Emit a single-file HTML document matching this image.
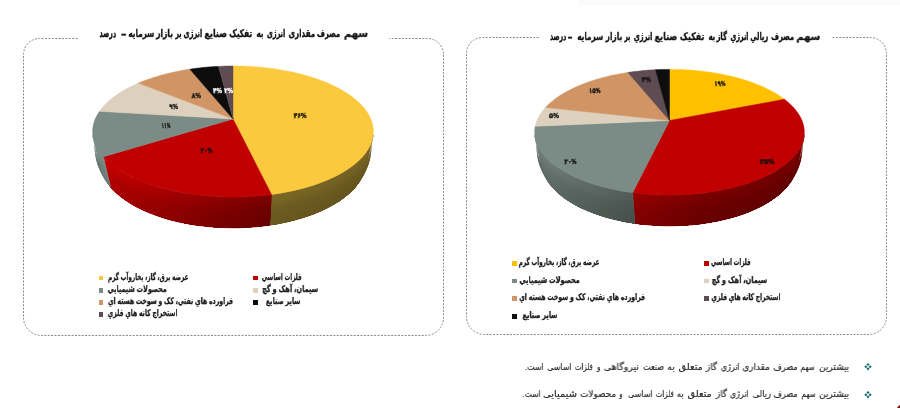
<!DOCTYPE html>
<html lang="fa">
<head>
<meta charset="utf-8">
<title>سهم مصرف انرژی</title>
<style>
html,body{margin:0;padding:0;background:#fff;}
body{width:900px;height:408px;position:relative;overflow:hidden;font-family:"Liberation Sans","DejaVu Sans",sans-serif;color:#1a1a1a;}
svg.bg{position:absolute;left:0;top:0;}
.t{will-change:transform;position:absolute;white-space:nowrap;direction:rtl;line-height:1;transform-origin:right top;}
.c{position:absolute;white-space:nowrap;direction:ltr;line-height:1;font-weight:bold;transform:translate(-50%,-50%);}
.ttl{font-weight:bold;color:#111;-webkit-text-stroke:0.3px #111;}
.lg{font-weight:bold;color:#1a1a1a;-webkit-text-stroke:0.25px #1a1a1a;}
.lb{font-weight:bold;-webkit-text-stroke:0.35px currentColor;}
.sq{position:absolute;width:5px;height:5px;}
.bl{color:#2b2b2b;-webkit-text-stroke:0.18px #2b2b2b;}
.bu{position:absolute;color:#1f6f73;line-height:1;transform:translate(-50%,-50%);}
</style>
</head>
<body>
<svg class="bg" width="900" height="408" viewBox="0 0 900 408"><rect x="578" y="0" width="322" height="5" fill="#fafaf9"/><circle cx="903" cy="411" r="6.6" fill="#8a1010"/><path d="M77.6 38.5 H39.5 A16 16 0 0 0 23.5 54.5 V317.5 A18 18 0 0 0 41.5 335.5 H425.5 A18 18 0 0 0 443.5 317.5 V54.5 A16 16 0 0 0 427.5 38.5 H389.4" fill="none" stroke="#8a8a8a" stroke-width="1" stroke-dasharray="2 1.4"/><path d="M538.7 37.5 H482.5 A16 16 0 0 0 466.5 53.5 V316.5 A18 18 0 0 0 484.5 334.5 H868.5 A18 18 0 0 0 886.5 316.5 V53.5 A16 16 0 0 0 870.5 37.5 H832.5" fill="none" stroke="#8a8a8a" stroke-width="1" stroke-dasharray="2 1.4"/><defs><linearGradient id="L0_0" gradientUnits="userSpaceOnUse" x1="373.2" y1="0" x2="271.5" y2="0"><stop offset="0.001" stop-color="#7c6825"/><stop offset="0.041" stop-color="#796624"/><stop offset="0.133" stop-color="#766323"/><stop offset="0.279" stop-color="#756323"/><stop offset="0.477" stop-color="#766423"/><stop offset="0.721" stop-color="#786523"/><stop offset="1.000" stop-color="#7b6724"/></linearGradient><linearGradient id="L0_1" gradientUnits="userSpaceOnUse" x1="373.2" y1="0" x2="271.5" y2="0"><stop offset="0.004" stop-color="#7b6724"/><stop offset="0.043" stop-color="#786523"/><stop offset="0.135" stop-color="#756223"/><stop offset="0.281" stop-color="#746222"/><stop offset="0.479" stop-color="#756323"/><stop offset="0.723" stop-color="#776423"/><stop offset="1.000" stop-color="#7a6624"/></linearGradient><linearGradient id="L0_2" gradientUnits="userSpaceOnUse" x1="373.2" y1="0" x2="271.5" y2="0"><stop offset="0.007" stop-color="#796524"/><stop offset="0.046" stop-color="#766323"/><stop offset="0.138" stop-color="#736122"/><stop offset="0.284" stop-color="#726022"/><stop offset="0.481" stop-color="#736122"/><stop offset="0.724" stop-color="#746222"/><stop offset="1.000" stop-color="#776523"/></linearGradient><linearGradient id="L0_3" gradientUnits="userSpaceOnUse" x1="373.2" y1="0" x2="271.5" y2="0"><stop offset="0.010" stop-color="#756323"/><stop offset="0.049" stop-color="#726022"/><stop offset="0.141" stop-color="#6f5e21"/><stop offset="0.286" stop-color="#6f5d21"/><stop offset="0.483" stop-color="#705e21"/><stop offset="0.726" stop-color="#715f21"/><stop offset="1.000" stop-color="#746222"/></linearGradient><linearGradient id="L0_4" gradientUnits="userSpaceOnUse" x1="373.2" y1="0" x2="271.5" y2="0"><stop offset="0.013" stop-color="#726022"/><stop offset="0.052" stop-color="#6f5d21"/><stop offset="0.144" stop-color="#6c5b20"/><stop offset="0.289" stop-color="#6c5b20"/><stop offset="0.486" stop-color="#6d5c20"/><stop offset="0.727" stop-color="#6e5d21"/><stop offset="1.000" stop-color="#715f21"/></linearGradient><linearGradient id="L0_5" gradientUnits="userSpaceOnUse" x1="373.2" y1="0" x2="271.5" y2="0"><stop offset="0.016" stop-color="#705e21"/><stop offset="0.055" stop-color="#6d5c20"/><stop offset="0.146" stop-color="#6a591f"/><stop offset="0.291" stop-color="#69591f"/><stop offset="0.488" stop-color="#6b5a20"/><stop offset="0.729" stop-color="#6c5b20"/><stop offset="1.000" stop-color="#6e5d21"/></linearGradient><linearGradient id="L0_6" gradientUnits="userSpaceOnUse" x1="373.2" y1="0" x2="271.5" y2="0"><stop offset="0.018" stop-color="#6e5c20"/><stop offset="0.058" stop-color="#6b5a20"/><stop offset="0.149" stop-color="#68581f"/><stop offset="0.294" stop-color="#68571f"/><stop offset="0.490" stop-color="#69581f"/><stop offset="0.731" stop-color="#6a591f"/><stop offset="1.000" stop-color="#6d5c20"/></linearGradient><linearGradient id="L0_7" gradientUnits="userSpaceOnUse" x1="373.2" y1="0" x2="271.5" y2="0"><stop offset="0.021" stop-color="#6d5c20"/><stop offset="0.061" stop-color="#6a591f"/><stop offset="0.152" stop-color="#67571f"/><stop offset="0.296" stop-color="#67561e"/><stop offset="0.492" stop-color="#68571f"/><stop offset="0.732" stop-color="#69581f"/><stop offset="1.000" stop-color="#6c5b20"/></linearGradient><linearGradient id="L0_8" gradientUnits="userSpaceOnUse" x1="373.2" y1="0" x2="271.5" y2="0"><stop offset="0.027" stop-color="#6c5b20"/><stop offset="0.066" stop-color="#69581f"/><stop offset="0.157" stop-color="#66561e"/><stop offset="0.301" stop-color="#66561e"/><stop offset="0.496" stop-color="#67571e"/><stop offset="0.735" stop-color="#68571f"/><stop offset="1.000" stop-color="#6b5a20"/></linearGradient><linearGradient id="L0_9" gradientUnits="userSpaceOnUse" x1="373.2" y1="0" x2="271.5" y2="0"><stop offset="0.035" stop-color="#6b5a20"/><stop offset="0.074" stop-color="#68581f"/><stop offset="0.165" stop-color="#66561e"/><stop offset="0.308" stop-color="#65551e"/><stop offset="0.502" stop-color="#66561e"/><stop offset="0.740" stop-color="#67571f"/><stop offset="1.000" stop-color="#6a591f"/></linearGradient><linearGradient id="L0_10" gradientUnits="userSpaceOnUse" x1="373.2" y1="0" x2="271.5" y2="0"><stop offset="0.046" stop-color="#6a5a1f"/><stop offset="0.086" stop-color="#68571f"/><stop offset="0.176" stop-color="#65551e"/><stop offset="0.318" stop-color="#65551e"/><stop offset="0.510" stop-color="#66561e"/><stop offset="0.746" stop-color="#67571e"/><stop offset="1.000" stop-color="#69591f"/></linearGradient><linearGradient id="L0_11" gradientUnits="userSpaceOnUse" x1="373.2" y1="0" x2="271.5" y2="0"><stop offset="0.060" stop-color="#6a591f"/><stop offset="0.100" stop-color="#67571f"/><stop offset="0.190" stop-color="#65551e"/><stop offset="0.331" stop-color="#64541e"/><stop offset="0.521" stop-color="#65551e"/><stop offset="0.754" stop-color="#66561e"/><stop offset="1.000" stop-color="#69581f"/></linearGradient><linearGradient id="L1_0" gradientUnits="userSpaceOnUse" x1="271.5" y1="0" x2="103.4" y2="0"><stop offset="0.000" stop-color="#780000"/><stop offset="0.175" stop-color="#830000"/><stop offset="0.353" stop-color="#8e0000"/><stop offset="0.525" stop-color="#9d0000"/><stop offset="0.681" stop-color="#a90000"/><stop offset="0.815" stop-color="#b50000"/><stop offset="0.922" stop-color="#c10000"/><stop offset="0.999" stop-color="#ca0000"/></linearGradient><linearGradient id="L1_1" gradientUnits="userSpaceOnUse" x1="271.5" y1="0" x2="103.4" y2="0"><stop offset="0.001" stop-color="#770000"/><stop offset="0.176" stop-color="#820000"/><stop offset="0.353" stop-color="#8d0000"/><stop offset="0.524" stop-color="#9b0000"/><stop offset="0.680" stop-color="#a80000"/><stop offset="0.814" stop-color="#b30000"/><stop offset="0.920" stop-color="#bf0000"/><stop offset="0.997" stop-color="#c90000"/></linearGradient><linearGradient id="L1_2" gradientUnits="userSpaceOnUse" x1="271.5" y1="0" x2="103.4" y2="0"><stop offset="0.001" stop-color="#750000"/><stop offset="0.176" stop-color="#7f0000"/><stop offset="0.353" stop-color="#8a0000"/><stop offset="0.523" stop-color="#980000"/><stop offset="0.679" stop-color="#a50000"/><stop offset="0.812" stop-color="#b00000"/><stop offset="0.919" stop-color="#bb0000"/><stop offset="0.996" stop-color="#c50000"/></linearGradient><linearGradient id="L1_3" gradientUnits="userSpaceOnUse" x1="271.5" y1="0" x2="103.4" y2="0"><stop offset="0.002" stop-color="#720000"/><stop offset="0.176" stop-color="#7c0000"/><stop offset="0.352" stop-color="#870000"/><stop offset="0.523" stop-color="#940000"/><stop offset="0.678" stop-color="#a00000"/><stop offset="0.811" stop-color="#ab0000"/><stop offset="0.917" stop-color="#b60000"/><stop offset="0.994" stop-color="#bf0000"/></linearGradient><linearGradient id="L1_4" gradientUnits="userSpaceOnUse" x1="271.5" y1="0" x2="103.4" y2="0"><stop offset="0.002" stop-color="#6e0000"/><stop offset="0.176" stop-color="#780000"/><stop offset="0.352" stop-color="#830000"/><stop offset="0.522" stop-color="#900000"/><stop offset="0.677" stop-color="#9b0000"/><stop offset="0.810" stop-color="#a60000"/><stop offset="0.916" stop-color="#b10000"/><stop offset="0.992" stop-color="#ba0000"/></linearGradient><linearGradient id="L1_5" gradientUnits="userSpaceOnUse" x1="271.5" y1="0" x2="103.4" y2="0"><stop offset="0.003" stop-color="#6c0000"/><stop offset="0.176" stop-color="#760000"/><stop offset="0.352" stop-color="#800000"/><stop offset="0.521" stop-color="#8d0000"/><stop offset="0.676" stop-color="#980000"/><stop offset="0.808" stop-color="#a30000"/><stop offset="0.914" stop-color="#ad0000"/><stop offset="0.991" stop-color="#b60000"/></linearGradient><linearGradient id="L1_6" gradientUnits="userSpaceOnUse" x1="271.5" y1="0" x2="103.4" y2="0"><stop offset="0.004" stop-color="#6b0000"/><stop offset="0.176" stop-color="#740000"/><stop offset="0.351" stop-color="#7e0000"/><stop offset="0.520" stop-color="#8b0000"/><stop offset="0.675" stop-color="#960000"/><stop offset="0.807" stop-color="#a10000"/><stop offset="0.913" stop-color="#ab0000"/><stop offset="0.989" stop-color="#b30000"/></linearGradient><linearGradient id="L1_7" gradientUnits="userSpaceOnUse" x1="271.5" y1="0" x2="103.4" y2="0"><stop offset="0.004" stop-color="#690000"/><stop offset="0.176" stop-color="#730000"/><stop offset="0.351" stop-color="#7d0000"/><stop offset="0.520" stop-color="#890000"/><stop offset="0.673" stop-color="#940000"/><stop offset="0.806" stop-color="#9f0000"/><stop offset="0.911" stop-color="#a90000"/><stop offset="0.987" stop-color="#b20000"/></linearGradient><linearGradient id="L1_8" gradientUnits="userSpaceOnUse" x1="271.5" y1="0" x2="103.4" y2="0"><stop offset="0.005" stop-color="#680000"/><stop offset="0.177" stop-color="#720000"/><stop offset="0.351" stop-color="#7c0000"/><stop offset="0.518" stop-color="#880000"/><stop offset="0.672" stop-color="#930000"/><stop offset="0.803" stop-color="#9d0000"/><stop offset="0.908" stop-color="#a70000"/><stop offset="0.984" stop-color="#b00000"/></linearGradient><linearGradient id="L1_9" gradientUnits="userSpaceOnUse" x1="271.5" y1="0" x2="103.4" y2="0"><stop offset="0.007" stop-color="#680000"/><stop offset="0.177" stop-color="#710000"/><stop offset="0.350" stop-color="#7b0000"/><stop offset="0.516" stop-color="#870000"/><stop offset="0.668" stop-color="#920000"/><stop offset="0.799" stop-color="#9c0000"/><stop offset="0.904" stop-color="#a60000"/><stop offset="0.979" stop-color="#af0000"/></linearGradient><linearGradient id="L1_10" gradientUnits="userSpaceOnUse" x1="271.5" y1="0" x2="103.4" y2="0"><stop offset="0.009" stop-color="#670000"/><stop offset="0.177" stop-color="#700000"/><stop offset="0.349" stop-color="#7a0000"/><stop offset="0.514" stop-color="#860000"/><stop offset="0.664" stop-color="#910000"/><stop offset="0.794" stop-color="#9c0000"/><stop offset="0.897" stop-color="#a50000"/><stop offset="0.973" stop-color="#ae0000"/></linearGradient><linearGradient id="L1_11" gradientUnits="userSpaceOnUse" x1="271.5" y1="0" x2="103.4" y2="0"><stop offset="0.012" stop-color="#670000"/><stop offset="0.178" stop-color="#700000"/><stop offset="0.347" stop-color="#7a0000"/><stop offset="0.510" stop-color="#860000"/><stop offset="0.659" stop-color="#910000"/><stop offset="0.787" stop-color="#9b0000"/><stop offset="0.890" stop-color="#a50000"/><stop offset="0.964" stop-color="#ad0000"/></linearGradient><linearGradient id="L2_0" gradientUnits="userSpaceOnUse" x1="103.4" y1="0" x2="92.8" y2="0"><stop offset="0.000" stop-color="#7c8d87"/><stop offset="0.986" stop-color="#798983"/></linearGradient><linearGradient id="L2_1" gradientUnits="userSpaceOnUse" x1="103.4" y1="0" x2="92.8" y2="0"><stop offset="0.000" stop-color="#7b8c86"/><stop offset="0.959" stop-color="#788882"/></linearGradient><linearGradient id="L2_2" gradientUnits="userSpaceOnUse" x1="103.4" y1="0" x2="92.8" y2="0"><stop offset="0.000" stop-color="#798983"/><stop offset="0.932" stop-color="#75857f"/></linearGradient><linearGradient id="L2_3" gradientUnits="userSpaceOnUse" x1="103.4" y1="0" x2="92.8" y2="0"><stop offset="0.000" stop-color="#768680"/><stop offset="0.904" stop-color="#72827c"/></linearGradient><linearGradient id="L2_4" gradientUnits="userSpaceOnUse" x1="103.4" y1="0" x2="92.8" y2="0"><stop offset="0.000" stop-color="#72827c"/><stop offset="0.877" stop-color="#6f7e78"/></linearGradient><linearGradient id="L2_5" gradientUnits="userSpaceOnUse" x1="103.4" y1="0" x2="92.8" y2="0"><stop offset="0.000" stop-color="#707f79"/><stop offset="0.850" stop-color="#6d7b76"/></linearGradient><linearGradient id="L2_6" gradientUnits="userSpaceOnUse" x1="103.4" y1="0" x2="92.8" y2="0"><stop offset="0.000" stop-color="#6e7d78"/><stop offset="0.824" stop-color="#6b7a74"/></linearGradient><linearGradient id="L2_7" gradientUnits="userSpaceOnUse" x1="103.4" y1="0" x2="92.8" y2="0"><stop offset="0.000" stop-color="#6d7c76"/><stop offset="0.796" stop-color="#6a7873"/></linearGradient><linearGradient id="L2_8" gradientUnits="userSpaceOnUse" x1="103.4" y1="0" x2="92.8" y2="0"><stop offset="0.000" stop-color="#6c7b75"/><stop offset="0.745" stop-color="#697772"/></linearGradient><linearGradient id="L2_9" gradientUnits="userSpaceOnUse" x1="103.4" y1="0" x2="92.8" y2="0"><stop offset="0.000" stop-color="#6b7a75"/><stop offset="0.666" stop-color="#687671"/></linearGradient><linearGradient id="L2_10" gradientUnits="userSpaceOnUse" x1="103.4" y1="0" x2="92.8" y2="0"><stop offset="0.000" stop-color="#6b7974"/><stop offset="0.557" stop-color="#687670"/></linearGradient><linearGradient id="L2_11" gradientUnits="userSpaceOnUse" x1="103.4" y1="0" x2="92.8" y2="0"><stop offset="0.000" stop-color="#6a7973"/><stop offset="0.419" stop-color="#677570"/></linearGradient></defs><path d="M373.2 135.0 L372.5 138.7 L371.4 142.4 L369.8 146.1 L367.7 149.8 L365.2 153.5 L362.1 157.2 L358.6 160.8 L354.5 164.3 L350.0 167.7 L344.9 171.0 L339.4 174.2 L333.4 177.3 L327.0 180.1 L320.1 182.9 L312.8 185.4 L305.2 187.7 L297.2 189.7 L288.9 191.6 L280.3 193.2 L271.5 194.5 L269.2 225.2 L277.6 223.9 L285.7 222.3 L293.5 220.4 L301.1 218.3 L308.3 216.0 L315.2 213.4 L321.7 210.7 L327.8 207.7 L333.5 204.6 L338.8 201.4 L343.6 198.0 L348.0 194.5 L351.9 190.9 L355.3 187.2 L358.3 183.5 L360.7 179.7 L362.8 175.9 L364.4 172.1 L365.5 168.2 L366.2 164.4Z" fill="url(#L0_0)" stroke="url(#L0_0)" stroke-width="0.7"/><path d="M372.9 137.5 L372.2 141.3 L371.1 145.0 L369.5 148.7 L367.4 152.5 L364.9 156.2 L361.8 159.8 L358.3 163.4 L354.2 167.0 L349.7 170.4 L344.7 173.8 L339.2 177.0 L333.2 180.0 L326.8 182.9 L319.9 185.6 L312.7 188.2 L305.0 190.5 L297.0 192.6 L288.7 194.4 L280.2 196.0 L271.4 197.3 L269.2 225.2 L277.6 223.9 L285.7 222.3 L293.5 220.4 L301.1 218.3 L308.3 216.0 L315.2 213.4 L321.7 210.7 L327.8 207.7 L333.5 204.6 L338.8 201.4 L343.6 198.0 L348.0 194.5 L351.9 190.9 L355.3 187.2 L358.3 183.5 L360.7 179.7 L362.8 175.9 L364.4 172.1 L365.5 168.2 L366.2 164.4Z" fill="url(#L0_1)"/><path d="M372.6 140.1 L371.9 143.8 L370.8 147.6 L369.2 151.3 L367.2 155.1 L364.6 158.8 L361.5 162.5 L358.0 166.1 L354.0 169.7 L349.4 173.1 L344.4 176.5 L338.9 179.7 L332.9 182.8 L326.5 185.7 L319.7 188.4 L312.5 190.9 L304.9 193.3 L296.9 195.4 L288.6 197.2 L280.1 198.8 L271.3 200.2 L269.2 225.2 L277.6 223.9 L285.7 222.3 L293.5 220.4 L301.1 218.3 L308.3 216.0 L315.2 213.4 L321.7 210.7 L327.8 207.7 L333.5 204.6 L338.8 201.4 L343.6 198.0 L348.0 194.5 L351.9 190.9 L355.3 187.2 L358.3 183.5 L360.7 179.7 L362.8 175.9 L364.4 172.1 L365.5 168.2 L366.2 164.4Z" fill="url(#L0_2)"/><path d="M372.3 142.6 L371.6 146.4 L370.5 150.1 L368.9 153.9 L366.9 157.7 L364.3 161.4 L361.3 165.1 L357.7 168.8 L353.7 172.3 L349.2 175.8 L344.2 179.2 L338.7 182.4 L332.7 185.5 L326.3 188.4 L319.5 191.2 L312.3 193.7 L304.7 196.1 L296.7 198.2 L288.5 200.0 L280.0 201.6 L271.2 203.0 L269.2 225.2 L277.6 223.9 L285.7 222.3 L293.5 220.4 L301.1 218.3 L308.3 216.0 L315.2 213.4 L321.7 210.7 L327.8 207.7 L333.5 204.6 L338.8 201.4 L343.6 198.0 L348.0 194.5 L351.9 190.9 L355.3 187.2 L358.3 183.5 L360.7 179.7 L362.8 175.9 L364.4 172.1 L365.5 168.2 L366.2 164.4Z" fill="url(#L0_3)"/><path d="M372.0 145.1 L371.3 148.9 L370.2 152.7 L368.6 156.5 L366.6 160.3 L364.0 164.0 L361.0 167.8 L357.4 171.4 L353.4 175.0 L348.9 178.5 L343.9 181.9 L338.4 185.1 L332.5 188.2 L326.1 191.2 L319.3 193.9 L312.1 196.5 L304.5 198.8 L296.6 200.9 L288.3 202.8 L279.8 204.4 L271.1 205.8 L269.2 225.2 L277.6 223.9 L285.7 222.3 L293.5 220.4 L301.1 218.3 L308.3 216.0 L315.2 213.4 L321.7 210.7 L327.8 207.7 L333.5 204.6 L338.8 201.4 L343.6 198.0 L348.0 194.5 L351.9 190.9 L355.3 187.2 L358.3 183.5 L360.7 179.7 L362.8 175.9 L364.4 172.1 L365.5 168.2 L366.2 164.4Z" fill="url(#L0_4)"/><path d="M371.7 147.6 L371.1 151.4 L369.9 155.2 L368.4 159.0 L366.3 162.9 L363.7 166.6 L360.7 170.4 L357.2 174.0 L353.2 177.6 L348.6 181.1 L343.6 184.5 L338.2 187.8 L332.3 190.9 L325.9 193.9 L319.1 196.6 L311.9 199.2 L304.3 201.6 L296.4 203.7 L288.2 205.6 L279.7 207.2 L271.0 208.5 L269.2 225.2 L277.6 223.9 L285.7 222.3 L293.5 220.4 L301.1 218.3 L308.3 216.0 L315.2 213.4 L321.7 210.7 L327.8 207.7 L333.5 204.6 L338.8 201.4 L343.6 198.0 L348.0 194.5 L351.9 190.9 L355.3 187.2 L358.3 183.5 L360.7 179.7 L362.8 175.9 L364.4 172.1 L365.5 168.2 L366.2 164.4Z" fill="url(#L0_5)"/><path d="M371.4 150.1 L370.8 153.9 L369.7 157.8 L368.1 161.6 L366.0 165.4 L363.5 169.2 L360.4 173.0 L356.9 176.7 L352.9 180.3 L348.4 183.8 L343.4 187.2 L337.9 190.5 L332.0 193.6 L325.7 196.6 L318.9 199.4 L311.7 201.9 L304.2 204.3 L296.3 206.4 L288.1 208.3 L279.6 210.0 L270.9 211.3 L269.2 225.2 L277.6 223.9 L285.7 222.3 L293.5 220.4 L301.1 218.3 L308.3 216.0 L315.2 213.4 L321.7 210.7 L327.8 207.7 L333.5 204.6 L338.8 201.4 L343.6 198.0 L348.0 194.5 L351.9 190.9 L355.3 187.2 L358.3 183.5 L360.7 179.7 L362.8 175.9 L364.4 172.1 L365.5 168.2 L366.2 164.4Z" fill="url(#L0_6)"/><path d="M371.1 152.6 L370.5 156.4 L369.4 160.3 L367.8 164.1 L365.7 168.0 L363.2 171.8 L360.1 175.6 L356.6 179.3 L352.6 182.9 L348.1 186.4 L343.1 189.9 L337.7 193.2 L331.8 196.3 L325.5 199.3 L318.7 202.1 L311.5 204.7 L304.0 207.0 L296.1 209.2 L288.0 211.1 L279.5 212.7 L270.8 214.1 L269.2 225.2 L277.6 223.9 L285.7 222.3 L293.5 220.4 L301.1 218.3 L308.3 216.0 L315.2 213.4 L321.7 210.7 L327.8 207.7 L333.5 204.6 L338.8 201.4 L343.6 198.0 L348.0 194.5 L351.9 190.9 L355.3 187.2 L358.3 183.5 L360.7 179.7 L362.8 175.9 L364.4 172.1 L365.5 168.2 L366.2 164.4Z" fill="url(#L0_7)"/><path d="M370.8 155.0 L370.1 158.9 L369.0 162.8 L367.4 166.6 L365.3 170.5 L362.8 174.3 L359.8 178.1 L356.3 181.8 L352.3 185.5 L347.8 189.0 L342.8 192.5 L337.4 195.8 L331.5 198.9 L325.2 201.9 L318.4 204.7 L311.3 207.3 L303.8 209.7 L295.9 211.8 L287.8 213.7 L279.4 215.4 L270.7 216.8 L269.2 225.2 L277.6 223.9 L285.7 222.3 L293.5 220.4 L301.1 218.3 L308.3 216.0 L315.2 213.4 L321.7 210.7 L327.8 207.7 L333.5 204.6 L338.8 201.4 L343.6 198.0 L348.0 194.5 L351.9 190.9 L355.3 187.2 L358.3 183.5 L360.7 179.7 L362.8 175.9 L364.4 172.1 L365.5 168.2 L366.2 164.4Z" fill="url(#L0_8)"/><path d="M370.1 157.5 L369.4 161.3 L368.3 165.2 L366.7 169.1 L364.7 172.9 L362.1 176.8 L359.1 180.6 L355.6 184.3 L351.6 187.9 L347.2 191.5 L342.2 194.9 L336.8 198.2 L330.9 201.4 L324.7 204.4 L317.9 207.2 L310.8 209.8 L303.4 212.2 L295.6 214.3 L287.5 216.2 L279.1 217.8 L270.5 219.2 L269.2 225.2 L277.6 223.9 L285.7 222.3 L293.5 220.4 L301.1 218.3 L308.3 216.0 L315.2 213.4 L321.7 210.7 L327.8 207.7 L333.5 204.6 L338.8 201.4 L343.6 198.0 L348.0 194.5 L351.9 190.9 L355.3 187.2 L358.3 183.5 L360.7 179.7 L362.8 175.9 L364.4 172.1 L365.5 168.2 L366.2 164.4Z" fill="url(#L0_9)"/><path d="M369.1 159.8 L368.4 163.7 L367.3 167.6 L365.7 171.4 L363.7 175.3 L361.1 179.1 L358.1 182.9 L354.6 186.6 L350.7 190.2 L346.2 193.8 L341.3 197.2 L336.0 200.5 L330.2 203.7 L323.9 206.7 L317.2 209.4 L310.2 212.0 L302.8 214.4 L295.0 216.6 L287.0 218.4 L278.7 220.1 L270.2 221.4 L269.2 225.2 L277.6 223.9 L285.7 222.3 L293.5 220.4 L301.1 218.3 L308.3 216.0 L315.2 213.4 L321.7 210.7 L327.8 207.7 L333.5 204.6 L338.8 201.4 L343.6 198.0 L348.0 194.5 L351.9 190.9 L355.3 187.2 L358.3 183.5 L360.7 179.7 L362.8 175.9 L364.4 172.1 L365.5 168.2 L366.2 164.4Z" fill="url(#L0_10)"/><path d="M367.8 162.1 L367.1 166.0 L366.0 169.8 L364.4 173.7 L362.4 177.5 L359.8 181.3 L356.9 185.1 L353.4 188.8 L349.5 192.4 L345.1 196.0 L340.2 199.4 L334.9 202.7 L329.1 205.8 L322.9 208.8 L316.3 211.5 L309.4 214.1 L302.0 216.5 L294.4 218.6 L286.4 220.5 L278.2 222.1 L269.8 223.5 L269.2 225.2 L277.6 223.9 L285.7 222.3 L293.5 220.4 L301.1 218.3 L308.3 216.0 L315.2 213.4 L321.7 210.7 L327.8 207.7 L333.5 204.6 L338.8 201.4 L343.6 198.0 L348.0 194.5 L351.9 190.9 L355.3 187.2 L358.3 183.5 L360.7 179.7 L362.8 175.9 L364.4 172.1 L365.5 168.2 L366.2 164.4Z" fill="url(#L0_11)"/><path d="M271.5 194.5 L262.6 195.5 L253.7 196.3 L244.6 196.8 L235.5 197.0 L226.4 196.9 L217.2 196.6 L208.2 196.0 L199.3 195.1 L190.6 193.9 L182.0 192.5 L173.7 190.9 L165.7 189.0 L158.0 186.9 L150.7 184.5 L143.7 182.0 L137.1 179.3 L130.9 176.5 L125.2 173.4 L119.9 170.3 L115.1 167.0 L110.7 163.6 L106.8 160.2 L103.4 156.7 L110.3 186.7 L113.5 190.3 L117.3 193.8 L121.5 197.3 L126.1 200.6 L131.1 203.8 L136.6 206.9 L142.4 209.8 L148.7 212.6 L155.3 215.1 L162.3 217.5 L169.6 219.7 L177.1 221.6 L185.0 223.3 L193.0 224.7 L201.3 225.8 L209.7 226.7 L218.2 227.4 L226.7 227.7 L235.3 227.8 L243.9 227.6 L252.5 227.1 L260.9 226.3 L269.2 225.2Z" fill="url(#L1_0)" stroke="url(#L1_0)" stroke-width="0.7"/><path d="M271.4 197.3 L262.6 198.4 L253.6 199.1 L244.6 199.6 L235.5 199.8 L226.4 199.8 L217.3 199.4 L208.3 198.8 L199.4 197.9 L190.7 196.8 L182.2 195.4 L173.9 193.7 L165.9 191.8 L158.2 189.7 L150.9 187.3 L143.9 184.8 L137.3 182.1 L131.2 179.2 L125.4 176.2 L120.2 173.0 L115.3 169.7 L111.0 166.3 L107.1 162.9 L103.7 159.3 L110.3 186.7 L113.5 190.3 L117.3 193.8 L121.5 197.3 L126.1 200.6 L131.1 203.8 L136.6 206.9 L142.4 209.8 L148.7 212.6 L155.3 215.1 L162.3 217.5 L169.6 219.7 L177.1 221.6 L185.0 223.3 L193.0 224.7 L201.3 225.8 L209.7 226.7 L218.2 227.4 L226.7 227.7 L235.3 227.8 L243.9 227.6 L252.5 227.1 L260.9 226.3 L269.2 225.2Z" fill="url(#L1_1)"/><path d="M271.3 200.2 L262.5 201.2 L253.6 202.0 L244.6 202.5 L235.5 202.7 L226.4 202.6 L217.3 202.3 L208.3 201.6 L199.5 200.8 L190.8 199.6 L182.3 198.2 L174.0 196.5 L166.0 194.6 L158.4 192.5 L151.1 190.1 L144.1 187.6 L137.5 184.8 L131.4 181.9 L125.7 178.9 L120.4 175.7 L115.6 172.4 L111.3 169.0 L107.4 165.5 L104.0 162.0 L110.3 186.7 L113.5 190.3 L117.3 193.8 L121.5 197.3 L126.1 200.6 L131.1 203.8 L136.6 206.9 L142.4 209.8 L148.7 212.6 L155.3 215.1 L162.3 217.5 L169.6 219.7 L177.1 221.6 L185.0 223.3 L193.0 224.7 L201.3 225.8 L209.7 226.7 L218.2 227.4 L226.7 227.7 L235.3 227.8 L243.9 227.6 L252.5 227.1 L260.9 226.3 L269.2 225.2Z" fill="url(#L1_2)"/><path d="M271.2 203.0 L262.4 204.0 L253.5 204.8 L244.5 205.3 L235.5 205.5 L226.4 205.4 L217.4 205.1 L208.4 204.5 L199.6 203.6 L190.9 202.4 L182.4 201.0 L174.2 199.3 L166.2 197.4 L158.6 195.2 L151.2 192.9 L144.3 190.3 L137.8 187.6 L131.6 184.7 L125.9 181.6 L120.7 178.4 L115.9 175.1 L111.5 171.7 L107.7 168.2 L104.3 164.6 L110.3 186.7 L113.5 190.3 L117.3 193.8 L121.5 197.3 L126.1 200.6 L131.1 203.8 L136.6 206.9 L142.4 209.8 L148.7 212.6 L155.3 215.1 L162.3 217.5 L169.6 219.7 L177.1 221.6 L185.0 223.3 L193.0 224.7 L201.3 225.8 L209.7 226.7 L218.2 227.4 L226.7 227.7 L235.3 227.8 L243.9 227.6 L252.5 227.1 L260.9 226.3 L269.2 225.2Z" fill="url(#L1_3)"/><path d="M271.1 205.8 L262.4 206.8 L253.5 207.6 L244.5 208.1 L235.5 208.3 L226.4 208.2 L217.4 207.9 L208.5 207.3 L199.6 206.4 L191.0 205.2 L182.5 203.8 L174.3 202.1 L166.4 200.2 L158.7 198.0 L151.4 195.6 L144.5 193.1 L138.0 190.3 L131.9 187.4 L126.2 184.3 L120.9 181.1 L116.1 177.8 L111.8 174.3 L107.9 170.8 L104.6 167.2 L110.3 186.7 L113.5 190.3 L117.3 193.8 L121.5 197.3 L126.1 200.6 L131.1 203.8 L136.6 206.9 L142.4 209.8 L148.7 212.6 L155.3 215.1 L162.3 217.5 L169.6 219.7 L177.1 221.6 L185.0 223.3 L193.0 224.7 L201.3 225.8 L209.7 226.7 L218.2 227.4 L226.7 227.7 L235.3 227.8 L243.9 227.6 L252.5 227.1 L260.9 226.3 L269.2 225.2Z" fill="url(#L1_4)"/><path d="M271.0 208.5 L262.3 209.6 L253.4 210.4 L244.5 210.9 L235.5 211.1 L226.4 211.0 L217.4 210.7 L208.5 210.1 L199.7 209.2 L191.1 208.0 L182.6 206.5 L174.4 204.8 L166.5 202.9 L158.9 200.8 L151.6 198.4 L144.7 195.8 L138.2 193.0 L132.1 190.1 L126.4 187.0 L121.2 183.8 L116.4 180.4 L112.1 177.0 L108.2 173.4 L104.8 169.8 L110.3 186.7 L113.5 190.3 L117.3 193.8 L121.5 197.3 L126.1 200.6 L131.1 203.8 L136.6 206.9 L142.4 209.8 L148.7 212.6 L155.3 215.1 L162.3 217.5 L169.6 219.7 L177.1 221.6 L185.0 223.3 L193.0 224.7 L201.3 225.8 L209.7 226.7 L218.2 227.4 L226.7 227.7 L235.3 227.8 L243.9 227.6 L252.5 227.1 L260.9 226.3 L269.2 225.2Z" fill="url(#L1_5)"/><path d="M270.9 211.3 L262.2 212.4 L253.4 213.2 L244.4 213.7 L235.5 213.9 L226.4 213.8 L217.5 213.5 L208.6 212.8 L199.8 211.9 L191.2 210.7 L182.8 209.3 L174.6 207.6 L166.7 205.7 L159.1 203.5 L151.8 201.1 L144.9 198.5 L138.4 195.7 L132.3 192.8 L126.7 189.7 L121.4 186.4 L116.7 183.1 L112.3 179.6 L108.5 176.1 L105.1 172.4 L110.3 186.7 L113.5 190.3 L117.3 193.8 L121.5 197.3 L126.1 200.6 L131.1 203.8 L136.6 206.9 L142.4 209.8 L148.7 212.6 L155.3 215.1 L162.3 217.5 L169.6 219.7 L177.1 221.6 L185.0 223.3 L193.0 224.7 L201.3 225.8 L209.7 226.7 L218.2 227.4 L226.7 227.7 L235.3 227.8 L243.9 227.6 L252.5 227.1 L260.9 226.3 L269.2 225.2Z" fill="url(#L1_6)"/><path d="M270.8 214.1 L262.1 215.1 L253.3 215.9 L244.4 216.4 L235.4 216.6 L226.5 216.6 L217.5 216.2 L208.6 215.6 L199.9 214.7 L191.3 213.5 L182.9 212.1 L174.7 210.3 L166.8 208.4 L159.3 206.2 L152.0 203.8 L145.1 201.2 L138.6 198.4 L132.6 195.5 L126.9 192.3 L121.7 189.1 L116.9 185.7 L112.6 182.2 L108.8 178.7 L105.4 175.0 L110.3 186.7 L113.5 190.3 L117.3 193.8 L121.5 197.3 L126.1 200.6 L131.1 203.8 L136.6 206.9 L142.4 209.8 L148.7 212.6 L155.3 215.1 L162.3 217.5 L169.6 219.7 L177.1 221.6 L185.0 223.3 L193.0 224.7 L201.3 225.8 L209.7 226.7 L218.2 227.4 L226.7 227.7 L235.3 227.8 L243.9 227.6 L252.5 227.1 L260.9 226.3 L269.2 225.2Z" fill="url(#L1_7)"/><path d="M270.7 216.8 L262.1 217.8 L253.3 218.6 L244.4 219.1 L235.4 219.3 L226.5 219.3 L217.6 218.9 L208.7 218.3 L200.0 217.4 L191.4 216.2 L183.0 214.7 L174.9 213.0 L167.0 211.1 L159.5 208.9 L152.3 206.5 L145.4 203.9 L138.9 201.1 L132.9 198.1 L127.2 195.0 L122.0 191.7 L117.3 188.3 L113.0 184.8 L109.1 181.2 L105.8 177.6 L110.3 186.7 L113.5 190.3 L117.3 193.8 L121.5 197.3 L126.1 200.6 L131.1 203.8 L136.6 206.9 L142.4 209.8 L148.7 212.6 L155.3 215.1 L162.3 217.5 L169.6 219.7 L177.1 221.6 L185.0 223.3 L193.0 224.7 L201.3 225.8 L209.7 226.7 L218.2 227.4 L226.7 227.7 L235.3 227.8 L243.9 227.6 L252.5 227.1 L260.9 226.3 L269.2 225.2Z" fill="url(#L1_8)"/><path d="M270.5 219.2 L261.9 220.3 L253.1 221.1 L244.3 221.6 L235.4 221.8 L226.5 221.7 L217.7 221.4 L208.9 220.7 L200.2 219.8 L191.7 218.6 L183.3 217.2 L175.2 215.5 L167.4 213.5 L159.9 211.3 L152.7 208.9 L145.9 206.3 L139.5 203.5 L133.4 200.5 L127.8 197.4 L122.6 194.1 L117.9 190.8 L113.6 187.3 L109.8 183.7 L106.4 180.0 L110.3 186.7 L113.5 190.3 L117.3 193.8 L121.5 197.3 L126.1 200.6 L131.1 203.8 L136.6 206.9 L142.4 209.8 L148.7 212.6 L155.3 215.1 L162.3 217.5 L169.6 219.7 L177.1 221.6 L185.0 223.3 L193.0 224.7 L201.3 225.8 L209.7 226.7 L218.2 227.4 L226.7 227.7 L235.3 227.8 L243.9 227.6 L252.5 227.1 L260.9 226.3 L269.2 225.2Z" fill="url(#L1_9)"/><path d="M270.2 221.4 L261.6 222.5 L253.0 223.3 L244.2 223.8 L235.4 224.0 L226.6 224.0 L217.8 223.6 L209.1 223.0 L200.5 222.1 L192.0 220.9 L183.8 219.4 L175.7 217.7 L168.0 215.8 L160.5 213.6 L153.4 211.2 L146.6 208.6 L140.2 205.8 L134.2 202.8 L128.7 199.7 L123.5 196.5 L118.8 193.1 L114.6 189.6 L110.8 186.0 L107.4 182.4 L110.3 186.7 L113.5 190.3 L117.3 193.8 L121.5 197.3 L126.1 200.6 L131.1 203.8 L136.6 206.9 L142.4 209.8 L148.7 212.6 L155.3 215.1 L162.3 217.5 L169.6 219.7 L177.1 221.6 L185.0 223.3 L193.0 224.7 L201.3 225.8 L209.7 226.7 L218.2 227.4 L226.7 227.7 L235.3 227.8 L243.9 227.6 L252.5 227.1 L260.9 226.3 L269.2 225.2Z" fill="url(#L1_10)"/><path d="M269.8 223.5 L261.3 224.5 L252.8 225.3 L244.1 225.8 L235.4 226.0 L226.7 225.9 L218.0 225.6 L209.3 225.0 L200.8 224.1 L192.5 222.9 L184.3 221.4 L176.4 219.8 L168.7 217.8 L161.3 215.6 L154.3 213.3 L147.5 210.7 L141.2 207.9 L135.3 205.0 L129.8 201.9 L124.7 198.6 L120.0 195.2 L115.8 191.8 L112.0 188.2 L108.7 184.6 L110.3 186.7 L113.5 190.3 L117.3 193.8 L121.5 197.3 L126.1 200.6 L131.1 203.8 L136.6 206.9 L142.4 209.8 L148.7 212.6 L155.3 215.1 L162.3 217.5 L169.6 219.7 L177.1 221.6 L185.0 223.3 L193.0 224.7 L201.3 225.8 L209.7 226.7 L218.2 227.4 L226.7 227.7 L235.3 227.8 L243.9 227.6 L252.5 227.1 L260.9 226.3 L269.2 225.2Z" fill="url(#L1_11)"/><path d="M103.4 156.7 L100.5 153.1 L98.1 149.5 L96.1 145.9 L94.5 142.2 L93.5 138.6 L92.8 135.0 L99.8 164.4 L100.5 168.1 L101.6 171.9 L103.1 175.6 L105.0 179.3 L107.4 183.0 L110.3 186.7Z" fill="url(#L2_0)" stroke="url(#L2_0)" stroke-width="0.7"/><path d="M103.7 159.3 L100.8 155.7 L98.3 152.1 L96.4 148.5 L94.8 144.8 L93.8 141.2 L93.1 137.5 L99.8 164.4 L100.5 168.1 L101.6 171.9 L103.1 175.6 L105.0 179.3 L107.4 183.0 L110.3 186.7Z" fill="url(#L2_1)"/><path d="M104.0 162.0 L101.1 158.4 L98.6 154.7 L96.7 151.1 L95.1 147.4 L94.1 143.7 L93.4 140.1 L99.8 164.4 L100.5 168.1 L101.6 171.9 L103.1 175.6 L105.0 179.3 L107.4 183.0 L110.3 186.7Z" fill="url(#L2_2)"/><path d="M104.3 164.6 L101.4 161.0 L98.9 157.3 L96.9 153.6 L95.4 150.0 L94.3 146.3 L93.7 142.6 L99.8 164.4 L100.5 168.1 L101.6 171.9 L103.1 175.6 L105.0 179.3 L107.4 183.0 L110.3 186.7Z" fill="url(#L2_3)"/><path d="M104.6 167.2 L101.7 163.6 L99.2 159.9 L97.2 156.2 L95.7 152.5 L94.6 148.8 L94.0 145.1 L99.8 164.4 L100.5 168.1 L101.6 171.9 L103.1 175.6 L105.0 179.3 L107.4 183.0 L110.3 186.7Z" fill="url(#L2_4)"/><path d="M104.8 169.8 L101.9 166.2 L99.5 162.5 L97.5 158.8 L96.0 155.0 L94.9 151.3 L94.3 147.6 L99.8 164.4 L100.5 168.1 L101.6 171.9 L103.1 175.6 L105.0 179.3 L107.4 183.0 L110.3 186.7Z" fill="url(#L2_5)"/><path d="M105.1 172.4 L102.2 168.8 L99.8 165.1 L97.8 161.3 L96.3 157.6 L95.2 153.8 L94.6 150.1 L99.8 164.4 L100.5 168.1 L101.6 171.9 L103.1 175.6 L105.0 179.3 L107.4 183.0 L110.3 186.7Z" fill="url(#L2_6)"/><path d="M105.4 175.0 L102.5 171.3 L100.1 167.6 L98.1 163.9 L96.6 160.1 L95.5 156.3 L94.9 152.6 L99.8 164.4 L100.5 168.1 L101.6 171.9 L103.1 175.6 L105.0 179.3 L107.4 183.0 L110.3 186.7Z" fill="url(#L2_7)"/><path d="M105.8 177.6 L102.9 173.9 L100.4 170.1 L98.5 166.4 L97.0 162.6 L95.9 158.8 L95.2 155.0 L99.8 164.4 L100.5 168.1 L101.6 171.9 L103.1 175.6 L105.0 179.3 L107.4 183.0 L110.3 186.7Z" fill="url(#L2_8)"/><path d="M106.4 180.0 L103.6 176.3 L101.1 172.6 L99.2 168.8 L97.6 165.0 L96.6 161.2 L95.9 157.5 L99.8 164.4 L100.5 168.1 L101.6 171.9 L103.1 175.6 L105.0 179.3 L107.4 183.0 L110.3 186.7Z" fill="url(#L2_9)"/><path d="M107.4 182.4 L104.5 178.7 L102.1 174.9 L100.2 171.2 L98.7 167.4 L97.6 163.6 L96.9 159.8 L99.8 164.4 L100.5 168.1 L101.6 171.9 L103.1 175.6 L105.0 179.3 L107.4 183.0 L110.3 186.7Z" fill="url(#L2_10)"/><path d="M108.7 184.6 L105.8 180.9 L103.4 177.2 L101.5 173.4 L100.0 169.7 L98.9 165.9 L98.2 162.1 L99.8 164.4 L100.5 168.1 L101.6 171.9 L103.1 175.6 L105.0 179.3 L107.4 183.0 L110.3 186.7Z" fill="url(#L2_11)"/><path d="M233.0 119.0 L233.0 66.0 L236.0 66.0 L239.1 66.1 L242.1 66.1 L245.1 66.2 L248.2 66.4 L251.2 66.6 L254.2 66.8 L257.2 67.0 L260.2 67.2 L263.2 67.5 L266.1 67.9 L269.1 68.2 L272.1 68.6 L275.0 69.0 L277.9 69.4 L280.8 69.9 L283.7 70.4 L286.6 71.0 L289.4 71.5 L292.2 72.1 L295.0 72.7 L297.8 73.4 L300.6 74.1 L303.3 74.8 L306.0 75.6 L308.7 76.3 L311.3 77.1 L313.9 78.0 L316.5 78.8 L319.0 79.7 L321.5 80.7 L324.0 81.6 L326.4 82.6 L328.8 83.6 L331.1 84.7 L333.4 85.7 L335.6 86.8 L337.8 88.0 L340.0 89.1 L342.1 90.3 L344.1 91.5 L346.1 92.7 L348.1 94.0 L350.0 95.3 L351.8 96.6 L353.6 98.0 L355.3 99.3 L356.9 100.7 L358.5 102.1 L360.0 103.6 L361.4 105.1 L362.8 106.5 L364.1 108.1 L365.3 109.6 L366.4 111.1 L367.5 112.7 L368.4 114.3 L369.3 115.9 L370.1 117.6 L370.9 119.2 L371.5 120.9 L372.0 122.6 L372.5 124.3 L372.8 126.0 L373.1 127.7 L373.3 129.4 L373.3 131.2 L373.3 132.9 L373.2 134.7 L372.9 136.5 L372.6 138.2 L372.2 140.0 L371.6 141.8 L370.9 143.6 L370.2 145.3 L369.3 147.1 L368.3 148.9 L367.2 150.7 L366.0 152.4 L364.7 154.2 L363.2 155.9 L361.7 157.7 L360.0 159.4 L358.2 161.1 L356.3 162.8 L354.3 164.4 L352.2 166.1 L349.9 167.7 L347.6 169.3 L345.1 170.9 L342.6 172.4 L339.9 174.0 L337.1 175.4 L334.2 176.9 L331.2 178.3 L328.1 179.7 L324.9 181.0 L321.6 182.3 L318.2 183.5 L314.8 184.7 L311.2 185.9 L307.6 187.0 L303.8 188.1 L300.0 189.1 L296.1 190.0 L292.2 190.9 L288.1 191.7 L284.1 192.5 L279.9 193.2 L275.7 193.9 L271.5 194.5Z" fill="#fbc93d" stroke="#fbc93d" stroke-width="0.5" stroke-linejoin="round"/><path d="M233.0 119.0 L271.5 194.5 L267.2 195.0 L262.8 195.5 L258.5 195.9 L254.1 196.3 L249.6 196.5 L245.2 196.8 L240.7 196.9 L236.3 197.0 L231.8 197.0 L227.3 196.9 L222.9 196.8 L218.4 196.6 L214.0 196.4 L209.6 196.1 L205.2 195.7 L200.8 195.3 L196.5 194.7 L192.2 194.2 L188.0 193.5 L183.8 192.8 L179.7 192.1 L175.7 191.3 L171.7 190.4 L167.7 189.5 L163.9 188.5 L160.1 187.5 L156.4 186.4 L152.8 185.3 L149.3 184.1 L145.9 182.8 L142.5 181.6 L139.3 180.3 L136.1 178.9 L133.1 177.5 L130.2 176.1 L127.3 174.6 L124.6 173.1 L122.0 171.6 L119.5 170.0 L117.1 168.4 L114.8 166.8 L112.6 165.2 L110.5 163.5 L108.6 161.8 L106.8 160.1 L105.0 158.4 L103.4 156.7Z" fill="#c00000" stroke="#c00000" stroke-width="0.5" stroke-linejoin="round"/><path d="M233.0 119.0 L103.4 156.7 L101.9 154.9 L100.5 153.1 L99.2 151.3 L98.1 149.6 L97.0 147.8 L96.1 146.0 L95.3 144.2 L94.6 142.3 L94.0 140.5 L93.5 138.7 L93.1 136.9 L92.9 135.2 L92.7 133.4 L92.7 131.6 L92.7 129.8 L92.8 128.1 L93.1 126.3 L93.4 124.6 L93.9 122.9 L94.4 121.1 L95.0 119.5 L95.8 117.8 L96.6 116.1 L97.5 114.5 L98.4 112.9 L99.5 111.3Z" fill="#7b8b85" stroke="#7b8b85" stroke-width="0.5" stroke-linejoin="round"/><path d="M233.0 119.0 L99.5 111.3 L100.7 109.7 L101.9 108.1 L103.2 106.5 L104.6 105.0 L106.1 103.5 L107.7 102.0 L109.3 100.6 L111.0 99.2 L112.7 97.8 L114.5 96.4 L116.4 95.0 L118.4 93.7 L120.4 92.4 L122.4 91.2 L124.6 89.9 L126.7 88.7 L129.0 87.5 L131.2 86.4 L133.6 85.3 L135.9 84.2 L138.4 83.1Z" fill="#ddd0bc" stroke="#ddd0bc" stroke-width="0.5" stroke-linejoin="round"/><path d="M233.0 119.0 L138.4 83.1 L140.8 82.1 L143.2 81.1 L145.7 80.2 L148.3 79.3 L150.9 78.4 L153.5 77.5 L156.1 76.7 L158.8 75.9 L161.5 75.1 L164.2 74.4 L167.0 73.7 L169.8 73.0 L172.6 72.4 L175.4 71.8 L178.3 71.2 L181.2 70.6 L184.1 70.1 L187.0 69.6 L189.9 69.2Z" fill="#d19465" stroke="#d19465" stroke-width="0.5" stroke-linejoin="round"/><path d="M233.0 119.0 L189.9 69.2 L193.0 68.7 L196.2 68.3 L199.3 67.9 L202.5 67.6 L205.7 67.3 L208.9 67.0 L212.1 66.7 L215.3 66.5 L218.5 66.4Z" fill="#0d0d0d" stroke="#0d0d0d" stroke-width="0.5" stroke-linejoin="round"/><path d="M233.0 119.0 L218.5 66.4 L222.1 66.2 L225.7 66.1 L229.4 66.0 L233.0 66.0Z" fill="#5f4b52" stroke="#5f4b52" stroke-width="0.5" stroke-linejoin="round"/><defs><linearGradient id="R1_0" gradientUnits="userSpaceOnUse" x1="804.2" y1="0" x2="632.7" y2="0"><stop offset="0.001" stop-color="#790000"/><stop offset="0.025" stop-color="#760000"/><stop offset="0.084" stop-color="#730000"/><stop offset="0.178" stop-color="#730000"/><stop offset="0.305" stop-color="#740000"/><stop offset="0.459" stop-color="#760000"/><stop offset="0.634" stop-color="#7c0000"/><stop offset="0.818" stop-color="#880000"/><stop offset="1.000" stop-color="#970000"/></linearGradient><linearGradient id="R1_1" gradientUnits="userSpaceOnUse" x1="804.2" y1="0" x2="632.7" y2="0"><stop offset="0.002" stop-color="#780000"/><stop offset="0.027" stop-color="#750000"/><stop offset="0.086" stop-color="#720000"/><stop offset="0.179" stop-color="#720000"/><stop offset="0.306" stop-color="#730000"/><stop offset="0.460" stop-color="#750000"/><stop offset="0.634" stop-color="#7b0000"/><stop offset="0.818" stop-color="#870000"/><stop offset="0.999" stop-color="#950000"/></linearGradient><linearGradient id="R1_2" gradientUnits="userSpaceOnUse" x1="804.2" y1="0" x2="632.7" y2="0"><stop offset="0.004" stop-color="#760000"/><stop offset="0.029" stop-color="#730000"/><stop offset="0.087" stop-color="#700000"/><stop offset="0.181" stop-color="#700000"/><stop offset="0.307" stop-color="#710000"/><stop offset="0.461" stop-color="#720000"/><stop offset="0.634" stop-color="#790000"/><stop offset="0.818" stop-color="#840000"/><stop offset="0.999" stop-color="#930000"/></linearGradient><linearGradient id="R1_3" gradientUnits="userSpaceOnUse" x1="804.2" y1="0" x2="632.7" y2="0"><stop offset="0.006" stop-color="#730000"/><stop offset="0.030" stop-color="#700000"/><stop offset="0.089" stop-color="#6d0000"/><stop offset="0.182" stop-color="#6d0000"/><stop offset="0.308" stop-color="#6e0000"/><stop offset="0.461" stop-color="#6f0000"/><stop offset="0.635" stop-color="#760000"/><stop offset="0.817" stop-color="#810000"/><stop offset="0.998" stop-color="#8f0000"/></linearGradient><linearGradient id="R1_4" gradientUnits="userSpaceOnUse" x1="804.2" y1="0" x2="632.7" y2="0"><stop offset="0.007" stop-color="#700000"/><stop offset="0.032" stop-color="#6d0000"/><stop offset="0.091" stop-color="#6a0000"/><stop offset="0.184" stop-color="#6a0000"/><stop offset="0.309" stop-color="#6b0000"/><stop offset="0.462" stop-color="#6c0000"/><stop offset="0.635" stop-color="#720000"/><stop offset="0.817" stop-color="#7d0000"/><stop offset="0.998" stop-color="#8b0000"/></linearGradient><linearGradient id="R1_5" gradientUnits="userSpaceOnUse" x1="804.2" y1="0" x2="632.7" y2="0"><stop offset="0.009" stop-color="#6d0000"/><stop offset="0.034" stop-color="#6a0000"/><stop offset="0.092" stop-color="#680000"/><stop offset="0.185" stop-color="#670000"/><stop offset="0.310" stop-color="#690000"/><stop offset="0.463" stop-color="#6a0000"/><stop offset="0.635" stop-color="#700000"/><stop offset="0.817" stop-color="#7b0000"/><stop offset="0.997" stop-color="#880000"/></linearGradient><linearGradient id="R1_6" gradientUnits="userSpaceOnUse" x1="804.2" y1="0" x2="632.7" y2="0"><stop offset="0.011" stop-color="#6c0000"/><stop offset="0.035" stop-color="#690000"/><stop offset="0.094" stop-color="#660000"/><stop offset="0.186" stop-color="#660000"/><stop offset="0.311" stop-color="#670000"/><stop offset="0.464" stop-color="#680000"/><stop offset="0.636" stop-color="#6e0000"/><stop offset="0.817" stop-color="#790000"/><stop offset="0.997" stop-color="#860000"/></linearGradient><linearGradient id="R1_7" gradientUnits="userSpaceOnUse" x1="804.2" y1="0" x2="632.7" y2="0"><stop offset="0.012" stop-color="#6b0000"/><stop offset="0.037" stop-color="#680000"/><stop offset="0.095" stop-color="#650000"/><stop offset="0.188" stop-color="#650000"/><stop offset="0.312" stop-color="#660000"/><stop offset="0.465" stop-color="#670000"/><stop offset="0.636" stop-color="#6d0000"/><stop offset="0.817" stop-color="#770000"/><stop offset="0.996" stop-color="#840000"/></linearGradient><linearGradient id="R1_8" gradientUnits="userSpaceOnUse" x1="804.2" y1="0" x2="632.7" y2="0"><stop offset="0.015" stop-color="#690000"/><stop offset="0.040" stop-color="#670000"/><stop offset="0.098" stop-color="#640000"/><stop offset="0.190" stop-color="#640000"/><stop offset="0.315" stop-color="#650000"/><stop offset="0.466" stop-color="#660000"/><stop offset="0.637" stop-color="#6c0000"/><stop offset="0.817" stop-color="#760000"/><stop offset="0.995" stop-color="#830000"/></linearGradient><linearGradient id="R1_9" gradientUnits="userSpaceOnUse" x1="804.2" y1="0" x2="632.7" y2="0"><stop offset="0.020" stop-color="#690000"/><stop offset="0.045" stop-color="#660000"/><stop offset="0.103" stop-color="#630000"/><stop offset="0.194" stop-color="#630000"/><stop offset="0.318" stop-color="#640000"/><stop offset="0.468" stop-color="#660000"/><stop offset="0.638" stop-color="#6b0000"/><stop offset="0.817" stop-color="#760000"/><stop offset="0.994" stop-color="#820000"/></linearGradient><linearGradient id="R1_10" gradientUnits="userSpaceOnUse" x1="804.2" y1="0" x2="632.7" y2="0"><stop offset="0.026" stop-color="#680000"/><stop offset="0.051" stop-color="#660000"/><stop offset="0.109" stop-color="#630000"/><stop offset="0.200" stop-color="#630000"/><stop offset="0.322" stop-color="#640000"/><stop offset="0.471" stop-color="#650000"/><stop offset="0.639" stop-color="#6b0000"/><stop offset="0.816" stop-color="#750000"/><stop offset="0.992" stop-color="#820000"/></linearGradient><linearGradient id="R1_11" gradientUnits="userSpaceOnUse" x1="804.2" y1="0" x2="632.7" y2="0"><stop offset="0.035" stop-color="#680000"/><stop offset="0.059" stop-color="#650000"/><stop offset="0.117" stop-color="#620000"/><stop offset="0.207" stop-color="#620000"/><stop offset="0.328" stop-color="#630000"/><stop offset="0.475" stop-color="#650000"/><stop offset="0.641" stop-color="#6a0000"/><stop offset="0.816" stop-color="#740000"/><stop offset="0.989" stop-color="#810000"/></linearGradient><linearGradient id="R2_0" gradientUnits="userSpaceOnUse" x1="632.7" y1="0" x2="534.8" y2="0"><stop offset="0.000" stop-color="#525d58"/><stop offset="0.279" stop-color="#596560"/><stop offset="0.523" stop-color="#606d67"/><stop offset="0.721" stop-color="#67756f"/><stop offset="0.868" stop-color="#6c7b75"/><stop offset="0.960" stop-color="#6d7c76"/><stop offset="0.999" stop-color="#6a7973"/></linearGradient><linearGradient id="R2_1" gradientUnits="userSpaceOnUse" x1="632.7" y1="0" x2="534.8" y2="0"><stop offset="0.000" stop-color="#515c57"/><stop offset="0.277" stop-color="#58645f"/><stop offset="0.521" stop-color="#5f6c67"/><stop offset="0.719" stop-color="#66746e"/><stop offset="0.865" stop-color="#6b7a74"/><stop offset="0.957" stop-color="#6c7b75"/><stop offset="0.996" stop-color="#697872"/></linearGradient><linearGradient id="R2_2" gradientUnits="userSpaceOnUse" x1="632.7" y1="0" x2="534.8" y2="0"><stop offset="0.000" stop-color="#4f5a56"/><stop offset="0.276" stop-color="#57635e"/><stop offset="0.519" stop-color="#5d6a65"/><stop offset="0.716" stop-color="#64716c"/><stop offset="0.862" stop-color="#697872"/><stop offset="0.954" stop-color="#6a7972"/><stop offset="0.993" stop-color="#67756f"/></linearGradient><linearGradient id="R2_3" gradientUnits="userSpaceOnUse" x1="632.7" y1="0" x2="534.8" y2="0"><stop offset="0.000" stop-color="#4d5853"/><stop offset="0.274" stop-color="#54605b"/><stop offset="0.516" stop-color="#5b6762"/><stop offset="0.714" stop-color="#616e69"/><stop offset="0.859" stop-color="#67746e"/><stop offset="0.951" stop-color="#67756f"/><stop offset="0.990" stop-color="#65726c"/></linearGradient><linearGradient id="R2_4" gradientUnits="userSpaceOnUse" x1="632.7" y1="0" x2="534.8" y2="0"><stop offset="0.000" stop-color="#4b5551"/><stop offset="0.272" stop-color="#525d58"/><stop offset="0.514" stop-color="#58645f"/><stop offset="0.711" stop-color="#5e6b66"/><stop offset="0.856" stop-color="#64716b"/><stop offset="0.948" stop-color="#64726c"/><stop offset="0.987" stop-color="#626f69"/></linearGradient><linearGradient id="R2_5" gradientUnits="userSpaceOnUse" x1="632.7" y1="0" x2="534.8" y2="0"><stop offset="0.000" stop-color="#4a534f"/><stop offset="0.271" stop-color="#505b57"/><stop offset="0.512" stop-color="#56625d"/><stop offset="0.709" stop-color="#5d6964"/><stop offset="0.854" stop-color="#626f69"/><stop offset="0.945" stop-color="#62706a"/><stop offset="0.984" stop-color="#606d67"/></linearGradient><linearGradient id="R2_6" gradientUnits="userSpaceOnUse" x1="632.7" y1="0" x2="534.8" y2="0"><stop offset="0.000" stop-color="#48524e"/><stop offset="0.269" stop-color="#4f5a55"/><stop offset="0.510" stop-color="#55615c"/><stop offset="0.706" stop-color="#5b6762"/><stop offset="0.851" stop-color="#606d68"/><stop offset="0.942" stop-color="#616e68"/><stop offset="0.981" stop-color="#5e6b66"/></linearGradient><linearGradient id="R2_7" gradientUnits="userSpaceOnUse" x1="632.7" y1="0" x2="534.8" y2="0"><stop offset="0.000" stop-color="#48514d"/><stop offset="0.268" stop-color="#4e5954"/><stop offset="0.508" stop-color="#54605b"/><stop offset="0.704" stop-color="#5a6661"/><stop offset="0.848" stop-color="#5f6c66"/><stop offset="0.939" stop-color="#606d67"/><stop offset="0.979" stop-color="#5d6a65"/></linearGradient><linearGradient id="R2_8" gradientUnits="userSpaceOnUse" x1="632.7" y1="0" x2="534.8" y2="0"><stop offset="0.000" stop-color="#47504c"/><stop offset="0.265" stop-color="#4e5853"/><stop offset="0.504" stop-color="#535f5a"/><stop offset="0.699" stop-color="#596560"/><stop offset="0.843" stop-color="#5e6b65"/><stop offset="0.934" stop-color="#5f6c66"/><stop offset="0.973" stop-color="#5c6963"/></linearGradient><linearGradient id="R2_9" gradientUnits="userSpaceOnUse" x1="632.7" y1="0" x2="534.8" y2="0"><stop offset="0.000" stop-color="#47504c"/><stop offset="0.260" stop-color="#4d5853"/><stop offset="0.498" stop-color="#535e59"/><stop offset="0.692" stop-color="#596560"/><stop offset="0.835" stop-color="#5e6a65"/><stop offset="0.926" stop-color="#5e6b66"/><stop offset="0.965" stop-color="#5c6863"/></linearGradient><linearGradient id="R2_10" gradientUnits="userSpaceOnUse" x1="632.7" y1="0" x2="534.8" y2="0"><stop offset="0.000" stop-color="#46504c"/><stop offset="0.254" stop-color="#4d5753"/><stop offset="0.490" stop-color="#535e59"/><stop offset="0.682" stop-color="#58645f"/><stop offset="0.824" stop-color="#5d6a64"/><stop offset="0.915" stop-color="#5e6b65"/><stop offset="0.954" stop-color="#5b6862"/></linearGradient><linearGradient id="R2_11" gradientUnits="userSpaceOnUse" x1="632.7" y1="0" x2="534.8" y2="0"><stop offset="0.000" stop-color="#464f4b"/><stop offset="0.246" stop-color="#4c5752"/><stop offset="0.479" stop-color="#525d58"/><stop offset="0.669" stop-color="#58645f"/><stop offset="0.810" stop-color="#5d6964"/><stop offset="0.900" stop-color="#5d6a65"/><stop offset="0.939" stop-color="#5b6762"/></linearGradient></defs><path d="M804.2 135.4 L803.6 138.9 L802.6 142.4 L801.1 145.9 L799.2 149.4 L796.8 152.9 L794.0 156.3 L790.7 159.7 L787.0 163.0 L782.8 166.2 L778.2 169.4 L773.1 172.4 L767.6 175.3 L761.7 178.0 L755.4 180.6 L748.7 183.0 L741.6 185.3 L734.2 187.3 L726.5 189.1 L718.5 190.7 L710.3 192.0 L702.0 193.2 L693.4 194.0 L684.7 194.6 L676.0 194.9 L667.2 195.0 L658.5 194.8 L649.8 194.3 L641.2 193.6 L632.7 192.6 L634.8 223.4 L642.8 224.4 L650.9 225.1 L659.1 225.6 L667.4 225.8 L675.6 225.7 L683.9 225.4 L692.0 224.8 L700.1 223.9 L708.0 222.8 L715.7 221.4 L723.2 219.8 L730.5 218.0 L737.5 215.9 L744.2 213.7 L750.5 211.2 L756.5 208.6 L762.2 205.8 L767.4 202.8 L772.2 199.7 L776.7 196.5 L780.7 193.2 L784.3 189.8 L787.4 186.3 L790.2 182.8 L792.4 179.3 L794.3 175.7 L795.8 172.1 L796.8 168.5 L797.4 164.9Z" fill="url(#R1_0)" stroke="url(#R1_0)" stroke-width="0.7"/><path d="M803.9 138.0 L803.3 141.5 L802.3 145.0 L800.8 148.5 L798.9 152.0 L796.6 155.5 L793.7 159.0 L790.5 162.4 L786.8 165.7 L782.6 168.9 L777.9 172.1 L772.9 175.1 L767.4 178.0 L761.5 180.8 L755.2 183.4 L748.5 185.8 L741.4 188.1 L734.0 190.1 L726.4 191.9 L718.4 193.5 L710.2 194.9 L701.9 196.0 L693.4 196.8 L684.7 197.4 L676.0 197.8 L667.3 197.8 L658.5 197.6 L649.8 197.2 L641.2 196.4 L632.8 195.4 L634.8 223.4 L642.8 224.4 L650.9 225.1 L659.1 225.6 L667.4 225.8 L675.6 225.7 L683.9 225.4 L692.0 224.8 L700.1 223.9 L708.0 222.8 L715.7 221.4 L723.2 219.8 L730.5 218.0 L737.5 215.9 L744.2 213.7 L750.5 211.2 L756.5 208.6 L762.2 205.8 L767.4 202.8 L772.2 199.7 L776.7 196.5 L780.7 193.2 L784.3 189.8 L787.4 186.3 L790.2 182.8 L792.4 179.3 L794.3 175.7 L795.8 172.1 L796.8 168.5 L797.4 164.9Z" fill="url(#R1_1)"/><path d="M803.6 140.5 L803.0 144.0 L802.0 147.6 L800.5 151.1 L798.6 154.6 L796.3 158.1 L793.5 161.6 L790.2 165.0 L786.5 168.4 L782.3 171.6 L777.7 174.8 L772.6 177.8 L767.2 180.8 L761.3 183.5 L755.0 186.2 L748.3 188.6 L741.2 190.9 L733.9 192.9 L726.2 194.7 L718.3 196.3 L710.1 197.7 L701.8 198.8 L693.3 199.7 L684.7 200.3 L676.0 200.6 L667.3 200.7 L658.5 200.5 L649.9 200.0 L641.3 199.3 L632.9 198.3 L634.8 223.4 L642.8 224.4 L650.9 225.1 L659.1 225.6 L667.4 225.8 L675.6 225.7 L683.9 225.4 L692.0 224.8 L700.1 223.9 L708.0 222.8 L715.7 221.4 L723.2 219.8 L730.5 218.0 L737.5 215.9 L744.2 213.7 L750.5 211.2 L756.5 208.6 L762.2 205.8 L767.4 202.8 L772.2 199.7 L776.7 196.5 L780.7 193.2 L784.3 189.8 L787.4 186.3 L790.2 182.8 L792.4 179.3 L794.3 175.7 L795.8 172.1 L796.8 168.5 L797.4 164.9Z" fill="url(#R1_2)"/><path d="M803.3 143.0 L802.7 146.6 L801.7 150.1 L800.2 153.7 L798.3 157.2 L796.0 160.7 L793.2 164.2 L789.9 167.7 L786.2 171.0 L782.1 174.3 L777.5 177.5 L772.4 180.6 L766.9 183.5 L761.0 186.3 L754.7 188.9 L748.1 191.4 L741.1 193.6 L733.7 195.7 L726.1 197.5 L718.2 199.1 L710.0 200.5 L701.7 201.6 L693.2 202.5 L684.6 203.1 L676.0 203.4 L667.3 203.5 L658.6 203.3 L649.9 202.8 L641.4 202.1 L633.0 201.1 L634.8 223.4 L642.8 224.4 L650.9 225.1 L659.1 225.6 L667.4 225.8 L675.6 225.7 L683.9 225.4 L692.0 224.8 L700.1 223.9 L708.0 222.8 L715.7 221.4 L723.2 219.8 L730.5 218.0 L737.5 215.9 L744.2 213.7 L750.5 211.2 L756.5 208.6 L762.2 205.8 L767.4 202.8 L772.2 199.7 L776.7 196.5 L780.7 193.2 L784.3 189.8 L787.4 186.3 L790.2 182.8 L792.4 179.3 L794.3 175.7 L795.8 172.1 L796.8 168.5 L797.4 164.9Z" fill="url(#R1_3)"/><path d="M803.0 145.6 L802.4 149.1 L801.4 152.7 L800.0 156.3 L798.1 159.8 L795.7 163.4 L792.9 166.8 L789.7 170.3 L786.0 173.7 L781.8 177.0 L777.2 180.2 L772.2 183.2 L766.7 186.2 L760.8 189.0 L754.5 191.6 L747.9 194.1 L740.9 196.4 L733.6 198.4 L726.0 200.3 L718.1 201.9 L710.0 203.3 L701.6 204.4 L693.2 205.3 L684.6 205.9 L675.9 206.2 L667.3 206.3 L658.6 206.1 L650.0 205.6 L641.5 204.9 L633.1 203.9 L634.8 223.4 L642.8 224.4 L650.9 225.1 L659.1 225.6 L667.4 225.8 L675.6 225.7 L683.9 225.4 L692.0 224.8 L700.1 223.9 L708.0 222.8 L715.7 221.4 L723.2 219.8 L730.5 218.0 L737.5 215.9 L744.2 213.7 L750.5 211.2 L756.5 208.6 L762.2 205.8 L767.4 202.8 L772.2 199.7 L776.7 196.5 L780.7 193.2 L784.3 189.8 L787.4 186.3 L790.2 182.8 L792.4 179.3 L794.3 175.7 L795.8 172.1 L796.8 168.5 L797.4 164.9Z" fill="url(#R1_4)"/><path d="M802.8 148.1 L802.2 151.6 L801.1 155.2 L799.7 158.8 L797.8 162.4 L795.4 165.9 L792.6 169.5 L789.4 172.9 L785.7 176.3 L781.6 179.6 L777.0 182.8 L771.9 185.9 L766.5 188.9 L760.6 191.7 L754.3 194.4 L747.7 196.8 L740.7 199.1 L733.4 201.2 L725.8 203.0 L717.9 204.7 L709.9 206.1 L701.6 207.2 L693.1 208.1 L684.6 208.7 L675.9 209.0 L667.3 209.1 L658.6 208.9 L650.0 208.4 L641.5 207.6 L633.2 206.6 L634.8 223.4 L642.8 224.4 L650.9 225.1 L659.1 225.6 L667.4 225.8 L675.6 225.7 L683.9 225.4 L692.0 224.8 L700.1 223.9 L708.0 222.8 L715.7 221.4 L723.2 219.8 L730.5 218.0 L737.5 215.9 L744.2 213.7 L750.5 211.2 L756.5 208.6 L762.2 205.8 L767.4 202.8 L772.2 199.7 L776.7 196.5 L780.7 193.2 L784.3 189.8 L787.4 186.3 L790.2 182.8 L792.4 179.3 L794.3 175.7 L795.8 172.1 L796.8 168.5 L797.4 164.9Z" fill="url(#R1_5)"/><path d="M802.5 150.5 L801.9 154.1 L800.9 157.7 L799.4 161.4 L797.5 164.9 L795.2 168.5 L792.4 172.1 L789.1 175.5 L785.4 178.9 L781.3 182.3 L776.7 185.5 L771.7 188.6 L766.2 191.6 L760.4 194.4 L754.1 197.1 L747.5 199.6 L740.6 201.9 L733.3 203.9 L725.7 205.8 L717.8 207.4 L709.8 208.8 L701.5 209.9 L693.1 210.8 L684.5 211.4 L675.9 211.8 L667.3 211.8 L658.6 211.6 L650.1 211.1 L641.6 210.4 L633.2 209.4 L634.8 223.4 L642.8 224.4 L650.9 225.1 L659.1 225.6 L667.4 225.8 L675.6 225.7 L683.9 225.4 L692.0 224.8 L700.1 223.9 L708.0 222.8 L715.7 221.4 L723.2 219.8 L730.5 218.0 L737.5 215.9 L744.2 213.7 L750.5 211.2 L756.5 208.6 L762.2 205.8 L767.4 202.8 L772.2 199.7 L776.7 196.5 L780.7 193.2 L784.3 189.8 L787.4 186.3 L790.2 182.8 L792.4 179.3 L794.3 175.7 L795.8 172.1 L796.8 168.5 L797.4 164.9Z" fill="url(#R1_6)"/><path d="M802.2 153.0 L801.6 156.6 L800.6 160.3 L799.1 163.9 L797.2 167.5 L794.9 171.1 L792.1 174.6 L788.9 178.1 L785.2 181.6 L781.0 184.9 L776.5 188.1 L771.5 191.3 L766.0 194.3 L760.2 197.1 L754.0 199.8 L747.3 202.3 L740.4 204.6 L733.1 206.7 L725.5 208.5 L717.7 210.2 L709.7 211.6 L701.4 212.7 L693.0 213.6 L684.5 214.2 L675.9 214.5 L667.3 214.6 L658.7 214.4 L650.1 213.9 L641.7 213.2 L633.3 212.1 L634.8 223.4 L642.8 224.4 L650.9 225.1 L659.1 225.6 L667.4 225.8 L675.6 225.7 L683.9 225.4 L692.0 224.8 L700.1 223.9 L708.0 222.8 L715.7 221.4 L723.2 219.8 L730.5 218.0 L737.5 215.9 L744.2 213.7 L750.5 211.2 L756.5 208.6 L762.2 205.8 L767.4 202.8 L772.2 199.7 L776.7 196.5 L780.7 193.2 L784.3 189.8 L787.4 186.3 L790.2 182.8 L792.4 179.3 L794.3 175.7 L795.8 172.1 L796.8 168.5 L797.4 164.9Z" fill="url(#R1_7)"/><path d="M801.8 155.5 L801.2 159.1 L800.2 162.7 L798.8 166.4 L796.9 170.0 L794.5 173.6 L791.7 177.2 L788.5 180.7 L784.8 184.1 L780.7 187.5 L776.1 190.7 L771.1 193.9 L765.7 196.9 L759.9 199.7 L753.7 202.4 L747.1 204.9 L740.2 207.2 L732.9 209.3 L725.4 211.2 L717.6 212.8 L709.5 214.2 L701.3 215.4 L692.9 216.3 L684.4 216.9 L675.9 217.2 L667.3 217.3 L658.7 217.1 L650.2 216.6 L641.7 215.8 L633.4 214.8 L634.8 223.4 L642.8 224.4 L650.9 225.1 L659.1 225.6 L667.4 225.8 L675.6 225.7 L683.9 225.4 L692.0 224.8 L700.1 223.9 L708.0 222.8 L715.7 221.4 L723.2 219.8 L730.5 218.0 L737.5 215.9 L744.2 213.7 L750.5 211.2 L756.5 208.6 L762.2 205.8 L767.4 202.8 L772.2 199.7 L776.7 196.5 L780.7 193.2 L784.3 189.8 L787.4 186.3 L790.2 182.8 L792.4 179.3 L794.3 175.7 L795.8 172.1 L796.8 168.5 L797.4 164.9Z" fill="url(#R1_8)"/><path d="M801.2 157.9 L800.6 161.5 L799.5 165.2 L798.1 168.8 L796.2 172.5 L793.9 176.1 L791.1 179.6 L787.9 183.1 L784.2 186.6 L780.1 189.9 L775.6 193.2 L770.6 196.3 L765.2 199.3 L759.4 202.2 L753.2 204.9 L746.7 207.4 L739.8 209.7 L732.5 211.8 L725.0 213.7 L717.3 215.3 L709.3 216.7 L701.1 217.8 L692.8 218.7 L684.4 219.3 L675.8 219.7 L667.3 219.7 L658.8 219.5 L650.3 219.0 L641.9 218.3 L633.7 217.3 L634.8 223.4 L642.8 224.4 L650.9 225.1 L659.1 225.6 L667.4 225.8 L675.6 225.7 L683.9 225.4 L692.0 224.8 L700.1 223.9 L708.0 222.8 L715.7 221.4 L723.2 219.8 L730.5 218.0 L737.5 215.9 L744.2 213.7 L750.5 211.2 L756.5 208.6 L762.2 205.8 L767.4 202.8 L772.2 199.7 L776.7 196.5 L780.7 193.2 L784.3 189.8 L787.4 186.3 L790.2 182.8 L792.4 179.3 L794.3 175.7 L795.8 172.1 L796.8 168.5 L797.4 164.9Z" fill="url(#R1_9)"/><path d="M800.2 160.3 L799.6 163.9 L798.6 167.5 L797.1 171.2 L795.2 174.8 L792.9 178.4 L790.2 182.0 L787.0 185.5 L783.3 188.9 L779.2 192.3 L774.7 195.5 L769.8 198.6 L764.4 201.6 L758.7 204.5 L752.5 207.2 L746.0 209.7 L739.2 212.0 L732.0 214.0 L724.6 215.9 L716.9 217.6 L709.0 218.9 L700.9 220.1 L692.6 221.0 L684.2 221.6 L675.8 221.9 L667.3 222.0 L658.9 221.8 L650.5 221.3 L642.1 220.5 L634.0 219.5 L634.8 223.4 L642.8 224.4 L650.9 225.1 L659.1 225.6 L667.4 225.8 L675.6 225.7 L683.9 225.4 L692.0 224.8 L700.1 223.9 L708.0 222.8 L715.7 221.4 L723.2 219.8 L730.5 218.0 L737.5 215.9 L744.2 213.7 L750.5 211.2 L756.5 208.6 L762.2 205.8 L767.4 202.8 L772.2 199.7 L776.7 196.5 L780.7 193.2 L784.3 189.8 L787.4 186.3 L790.2 182.8 L792.4 179.3 L794.3 175.7 L795.8 172.1 L796.8 168.5 L797.4 164.9Z" fill="url(#R1_10)"/><path d="M799.0 162.6 L798.4 166.2 L797.3 169.8 L795.9 173.5 L794.0 177.1 L791.7 180.7 L788.9 184.2 L785.8 187.7 L782.1 191.1 L778.1 194.4 L773.6 197.7 L768.7 200.8 L763.4 203.8 L757.7 206.6 L751.6 209.3 L745.2 211.7 L738.4 214.0 L731.3 216.1 L724.0 218.0 L716.4 219.6 L708.5 221.0 L700.5 222.1 L692.3 223.0 L684.1 223.6 L675.7 223.9 L667.3 224.0 L659.0 223.8 L650.7 223.3 L642.4 222.6 L634.4 221.6 L634.8 223.4 L642.8 224.4 L650.9 225.1 L659.1 225.6 L667.4 225.8 L675.6 225.7 L683.9 225.4 L692.0 224.8 L700.1 223.9 L708.0 222.8 L715.7 221.4 L723.2 219.8 L730.5 218.0 L737.5 215.9 L744.2 213.7 L750.5 211.2 L756.5 208.6 L762.2 205.8 L767.4 202.8 L772.2 199.7 L776.7 196.5 L780.7 193.2 L784.3 189.8 L787.4 186.3 L790.2 182.8 L792.4 179.3 L794.3 175.7 L795.8 172.1 L796.8 168.5 L797.4 164.9Z" fill="url(#R1_11)"/><path d="M632.7 192.6 L624.6 191.4 L616.7 190.0 L609.1 188.3 L601.7 186.5 L594.6 184.4 L587.8 182.2 L581.4 179.8 L575.4 177.2 L569.7 174.4 L564.5 171.6 L559.6 168.6 L555.2 165.5 L551.2 162.4 L547.7 159.1 L544.5 155.8 L541.9 152.5 L539.6 149.1 L537.8 145.7 L536.4 142.2 L535.4 138.8 L534.8 135.4 L541.6 164.9 L542.2 168.4 L543.2 171.9 L544.6 175.4 L546.4 178.9 L548.5 182.4 L551.1 185.8 L554.2 189.2 L557.6 192.5 L561.4 195.8 L565.6 198.9 L570.3 202.0 L575.3 204.9 L580.6 207.7 L586.4 210.3 L592.5 212.8 L598.9 215.1 L605.6 217.2 L612.5 219.0 L619.8 220.7 L627.2 222.2 L634.8 223.4Z" fill="url(#R2_0)" stroke="url(#R2_0)" stroke-width="0.7"/><path d="M632.8 195.4 L624.7 194.2 L616.9 192.8 L609.2 191.2 L601.9 189.3 L594.8 187.2 L588.0 185.0 L581.6 182.5 L575.6 179.9 L570.0 177.2 L564.7 174.3 L559.9 171.3 L555.5 168.2 L551.5 165.0 L547.9 161.8 L544.8 158.5 L542.1 155.1 L539.9 151.7 L538.1 148.3 L536.7 144.8 L535.7 141.4 L535.1 138.0 L541.6 164.9 L542.2 168.4 L543.2 171.9 L544.6 175.4 L546.4 178.9 L548.5 182.4 L551.1 185.8 L554.2 189.2 L557.6 192.5 L561.4 195.8 L565.6 198.9 L570.3 202.0 L575.3 204.9 L580.6 207.7 L586.4 210.3 L592.5 212.8 L598.9 215.1 L605.6 217.2 L612.5 219.0 L619.8 220.7 L627.2 222.2 L634.8 223.4Z" fill="url(#R2_1)"/><path d="M632.9 198.3 L624.8 197.1 L617.0 195.6 L609.4 193.9 L602.0 192.1 L595.0 190.0 L588.2 187.7 L581.8 185.3 L575.8 182.7 L570.2 179.9 L565.0 177.0 L560.1 174.0 L555.7 170.9 L551.7 167.7 L548.2 164.4 L545.1 161.1 L542.4 157.7 L540.2 154.3 L538.4 150.8 L537.0 147.4 L536.0 144.0 L535.4 140.5 L541.6 164.9 L542.2 168.4 L543.2 171.9 L544.6 175.4 L546.4 178.9 L548.5 182.4 L551.1 185.8 L554.2 189.2 L557.6 192.5 L561.4 195.8 L565.6 198.9 L570.3 202.0 L575.3 204.9 L580.6 207.7 L586.4 210.3 L592.5 212.8 L598.9 215.1 L605.6 217.2 L612.5 219.0 L619.8 220.7 L627.2 222.2 L634.8 223.4Z" fill="url(#R2_2)"/><path d="M633.0 201.1 L624.9 199.9 L617.1 198.4 L609.5 196.7 L602.2 194.8 L595.1 192.8 L588.4 190.5 L582.1 188.0 L576.0 185.4 L570.4 182.6 L565.2 179.7 L560.4 176.7 L556.0 173.6 L552.0 170.4 L548.5 167.1 L545.4 163.7 L542.7 160.3 L540.5 156.9 L538.6 153.4 L537.2 150.0 L536.3 146.5 L535.7 143.0 L541.6 164.9 L542.2 168.4 L543.2 171.9 L544.6 175.4 L546.4 178.9 L548.5 182.4 L551.1 185.8 L554.2 189.2 L557.6 192.5 L561.4 195.8 L565.6 198.9 L570.3 202.0 L575.3 204.9 L580.6 207.7 L586.4 210.3 L592.5 212.8 L598.9 215.1 L605.6 217.2 L612.5 219.0 L619.8 220.7 L627.2 222.2 L634.8 223.4Z" fill="url(#R2_3)"/><path d="M633.1 203.9 L625.0 202.6 L617.2 201.2 L609.7 199.5 L602.3 197.6 L595.3 195.5 L588.6 193.2 L582.3 190.8 L576.3 188.1 L570.7 185.3 L565.4 182.4 L560.6 179.4 L556.2 176.3 L552.3 173.0 L548.7 169.7 L545.6 166.3 L543.0 162.9 L540.7 159.5 L538.9 156.0 L537.5 152.5 L536.5 149.0 L536.0 145.6 L541.6 164.9 L542.2 168.4 L543.2 171.9 L544.6 175.4 L546.4 178.9 L548.5 182.4 L551.1 185.8 L554.2 189.2 L557.6 192.5 L561.4 195.8 L565.6 198.9 L570.3 202.0 L575.3 204.9 L580.6 207.7 L586.4 210.3 L592.5 212.8 L598.9 215.1 L605.6 217.2 L612.5 219.0 L619.8 220.7 L627.2 222.2 L634.8 223.4Z" fill="url(#R2_4)"/><path d="M633.2 206.6 L625.2 205.4 L617.4 203.9 L609.8 202.3 L602.5 200.4 L595.5 198.3 L588.8 196.0 L582.5 193.5 L576.5 190.8 L570.9 188.0 L565.7 185.1 L560.9 182.1 L556.5 178.9 L552.5 175.7 L549.0 172.3 L545.9 168.9 L543.2 165.5 L541.0 162.0 L539.2 158.5 L537.8 155.0 L536.8 151.5 L536.2 148.1 L541.6 164.9 L542.2 168.4 L543.2 171.9 L544.6 175.4 L546.4 178.9 L548.5 182.4 L551.1 185.8 L554.2 189.2 L557.6 192.5 L561.4 195.8 L565.6 198.9 L570.3 202.0 L575.3 204.9 L580.6 207.7 L586.4 210.3 L592.5 212.8 L598.9 215.1 L605.6 217.2 L612.5 219.0 L619.8 220.7 L627.2 222.2 L634.8 223.4Z" fill="url(#R2_5)"/><path d="M633.2 209.4 L625.3 208.2 L617.5 206.7 L609.9 205.0 L602.7 203.1 L595.7 201.0 L589.0 198.7 L582.7 196.2 L576.7 193.5 L571.1 190.7 L565.9 187.8 L561.1 184.7 L556.8 181.5 L552.8 178.3 L549.3 174.9 L546.2 171.5 L543.5 168.1 L541.3 164.6 L539.5 161.1 L538.1 157.6 L537.1 154.0 L536.5 150.5 L541.6 164.9 L542.2 168.4 L543.2 171.9 L544.6 175.4 L546.4 178.9 L548.5 182.4 L551.1 185.8 L554.2 189.2 L557.6 192.5 L561.4 195.8 L565.6 198.9 L570.3 202.0 L575.3 204.9 L580.6 207.7 L586.4 210.3 L592.5 212.8 L598.9 215.1 L605.6 217.2 L612.5 219.0 L619.8 220.7 L627.2 222.2 L634.8 223.4Z" fill="url(#R2_6)"/><path d="M633.3 212.1 L625.4 210.9 L617.6 209.4 L610.1 207.7 L602.8 205.8 L595.8 203.7 L589.2 201.4 L582.9 198.9 L576.9 196.2 L571.3 193.4 L566.1 190.4 L561.4 187.4 L557.0 184.2 L553.1 180.9 L549.5 177.5 L546.5 174.1 L543.8 170.6 L541.6 167.1 L539.7 163.6 L538.4 160.1 L537.4 156.5 L536.8 153.0 L541.6 164.9 L542.2 168.4 L543.2 171.9 L544.6 175.4 L546.4 178.9 L548.5 182.4 L551.1 185.8 L554.2 189.2 L557.6 192.5 L561.4 195.8 L565.6 198.9 L570.3 202.0 L575.3 204.9 L580.6 207.7 L586.4 210.3 L592.5 212.8 L598.9 215.1 L605.6 217.2 L612.5 219.0 L619.8 220.7 L627.2 222.2 L634.8 223.4Z" fill="url(#R2_7)"/><path d="M633.4 214.8 L625.5 213.6 L617.8 212.1 L610.3 210.4 L603.0 208.5 L596.1 206.3 L589.4 204.0 L583.1 201.5 L577.2 198.8 L571.6 196.0 L566.5 193.0 L561.7 189.9 L557.3 186.7 L553.4 183.5 L549.9 180.1 L546.8 176.7 L544.2 173.2 L541.9 169.7 L540.1 166.1 L538.7 162.6 L537.7 159.0 L537.2 155.5 L541.6 164.9 L542.2 168.4 L543.2 171.9 L544.6 175.4 L546.4 178.9 L548.5 182.4 L551.1 185.8 L554.2 189.2 L557.6 192.5 L561.4 195.8 L565.6 198.9 L570.3 202.0 L575.3 204.9 L580.6 207.7 L586.4 210.3 L592.5 212.8 L598.9 215.1 L605.6 217.2 L612.5 219.0 L619.8 220.7 L627.2 222.2 L634.8 223.4Z" fill="url(#R2_8)"/><path d="M633.7 217.3 L625.8 216.0 L618.1 214.6 L610.6 212.9 L603.4 210.9 L596.5 208.8 L589.9 206.5 L583.6 204.0 L577.7 201.3 L572.2 198.5 L567.0 195.5 L562.3 192.4 L558.0 189.2 L554.0 185.9 L550.5 182.5 L547.5 179.1 L544.8 175.6 L542.6 172.1 L540.8 168.6 L539.4 165.0 L538.4 161.4 L537.8 157.9 L541.6 164.9 L542.2 168.4 L543.2 171.9 L544.6 175.4 L546.4 178.9 L548.5 182.4 L551.1 185.8 L554.2 189.2 L557.6 192.5 L561.4 195.8 L565.6 198.9 L570.3 202.0 L575.3 204.9 L580.6 207.7 L586.4 210.3 L592.5 212.8 L598.9 215.1 L605.6 217.2 L612.5 219.0 L619.8 220.7 L627.2 222.2 L634.8 223.4Z" fill="url(#R2_9)"/><path d="M634.0 219.5 L626.1 218.3 L618.5 216.8 L611.1 215.1 L604.0 213.2 L597.1 211.1 L590.6 208.8 L584.3 206.3 L578.5 203.6 L573.0 200.8 L567.9 197.8 L563.1 194.7 L558.8 191.5 L554.9 188.2 L551.5 184.9 L548.4 181.4 L545.8 178.0 L543.6 174.4 L541.8 170.9 L540.4 167.4 L539.4 163.8 L538.8 160.3 L541.6 164.9 L542.2 168.4 L543.2 171.9 L544.6 175.4 L546.4 178.9 L548.5 182.4 L551.1 185.8 L554.2 189.2 L557.6 192.5 L561.4 195.8 L565.6 198.9 L570.3 202.0 L575.3 204.9 L580.6 207.7 L586.4 210.3 L592.5 212.8 L598.9 215.1 L605.6 217.2 L612.5 219.0 L619.8 220.7 L627.2 222.2 L634.8 223.4Z" fill="url(#R2_10)"/><path d="M634.4 221.6 L626.6 220.3 L619.1 218.9 L611.7 217.2 L604.7 215.3 L597.9 213.2 L591.4 210.9 L585.2 208.4 L579.4 205.7 L574.0 202.9 L568.9 200.0 L564.3 196.9 L560.0 193.7 L556.1 190.4 L552.7 187.1 L549.6 183.7 L547.0 180.2 L544.8 176.7 L543.0 173.2 L541.6 169.7 L540.6 166.1 L540.0 162.6 L541.6 164.9 L542.2 168.4 L543.2 171.9 L544.6 175.4 L546.4 178.9 L548.5 182.4 L551.1 185.8 L554.2 189.2 L557.6 192.5 L561.4 195.8 L565.6 198.9 L570.3 202.0 L575.3 204.9 L580.6 207.7 L586.4 210.3 L592.5 212.8 L598.9 215.1 L605.6 217.2 L612.5 219.0 L619.8 220.7 L627.2 222.2 L634.8 223.4Z" fill="url(#R2_11)"/><path d="M669.5 120.5 L669.5 69.4 L672.4 69.4 L675.4 69.5 L678.3 69.5 L681.3 69.6 L684.2 69.8 L687.1 69.9 L690.1 70.1 L693.0 70.4 L695.9 70.6 L698.8 70.9 L701.7 71.2 L704.6 71.6 L707.4 71.9 L710.3 72.3 L713.1 72.8 L715.9 73.2 L718.7 73.7 L721.5 74.3 L724.2 74.8 L727.0 75.4 L729.7 76.0 L732.4 76.6 L735.0 77.3 L737.7 78.0 L740.3 78.7 L742.9 79.5 L745.4 80.3 L747.9 81.1 L750.4 82.0 L752.9 82.8 L755.3 83.7 L757.6 84.7 L760.0 85.6 L762.3 86.6 L764.5 87.6 L766.7 88.7 L768.9 89.8 L771.0 90.9 L773.1 92.0 L775.1 93.1 L777.1 94.3 L779.0 95.5 L780.8 96.8 L782.6 98.0 L784.4 99.3Z" fill="#ffc000" stroke="#ffc000" stroke-width="0.5" stroke-linejoin="round"/><path d="M669.5 120.5 L784.4 99.3 L786.0 100.6 L787.7 101.9 L789.2 103.3 L790.7 104.7 L792.1 106.1 L793.5 107.5 L794.8 108.9 L796.0 110.4 L797.1 111.9 L798.2 113.4 L799.1 114.9 L800.0 116.5 L800.9 118.0 L801.6 119.6 L802.3 121.2 L802.8 122.8 L803.3 124.4 L803.7 126.1 L804.0 127.7 L804.2 129.4 L804.3 131.0 L804.3 132.7 L804.3 134.4 L804.1 136.1 L803.8 137.8 L803.4 139.5 L803.0 141.2 L802.4 142.9 L801.7 144.6 L800.9 146.3 L800.0 148.0 L799.0 149.7 L797.9 151.4 L796.6 153.1 L795.3 154.8 L793.9 156.5 L792.3 158.1 L790.7 159.8 L788.9 161.4 L787.0 163.0 L785.0 164.6 L782.9 166.2 L780.7 167.7 L778.4 169.2 L776.0 170.7 L773.5 172.2 L770.9 173.6 L768.1 175.0 L765.3 176.4 L762.4 177.7 L759.4 179.0 L756.3 180.3 L753.0 181.5 L749.8 182.7 L746.4 183.8 L742.9 184.9 L739.4 185.9 L735.8 186.9 L732.1 187.8 L728.3 188.7 L724.5 189.5 L720.6 190.3 L716.6 191.0 L712.6 191.7 L708.6 192.3 L704.5 192.8 L700.4 193.3 L696.2 193.8 L692.0 194.1 L687.8 194.4 L683.5 194.7 L679.3 194.8 L675.0 194.9 L670.7 195.0 L666.4 195.0 L662.1 194.9 L657.9 194.8 L653.6 194.6 L649.4 194.3 L645.2 194.0 L641.0 193.6 L636.8 193.1 L632.7 192.6Z" fill="#c00000" stroke="#c00000" stroke-width="0.5" stroke-linejoin="round"/><path d="M669.5 120.5 L632.7 192.6 L628.6 192.0 L624.5 191.4 L620.5 190.7 L616.6 190.0 L612.7 189.2 L608.8 188.3 L605.1 187.4 L601.4 186.4 L597.8 185.4 L594.3 184.3 L590.8 183.2 L587.5 182.0 L584.2 180.8 L581.0 179.6 L577.9 178.3 L574.9 177.0 L572.0 175.6 L569.2 174.2 L566.6 172.8 L564.0 171.3 L561.5 169.8 L559.1 168.3 L556.9 166.7 L554.7 165.2 L552.7 163.6 L550.7 161.9 L548.9 160.3 L547.2 158.7 L545.6 157.0 L544.1 155.3 L542.7 153.6 L541.5 151.9 L540.3 150.2 L539.3 148.5 L538.3 146.8 L537.5 145.1 L536.8 143.3 L536.2 141.6 L535.7 139.9 L535.3 138.2 L535.0 136.4 L534.8 134.7 L534.7 133.0 L534.7 131.3 L534.8 129.6 L535.0 128.0 L535.2 126.3Z" fill="#7b8b85" stroke="#7b8b85" stroke-width="0.5" stroke-linejoin="round"/><path d="M669.5 120.5 L535.2 126.3 L535.6 124.6 L536.1 123.0 L536.7 121.4 L537.3 119.7 L538.1 118.1 L538.9 116.6 L539.8 115.0 L540.8 113.4 L541.9 111.9 L543.0 110.4 L544.3 108.9 L545.6 107.4Z" fill="#ddd0bc" stroke="#ddd0bc" stroke-width="0.5" stroke-linejoin="round"/><path d="M669.5 120.5 L545.6 107.4 L546.9 106.0 L548.4 104.6 L549.9 103.2 L551.5 101.8 L553.2 100.4 L554.9 99.1 L556.7 97.8 L558.5 96.5 L560.4 95.3 L562.4 94.0 L564.4 92.8 L566.5 91.7 L568.6 90.5 L570.8 89.4 L573.0 88.3 L575.2 87.3 L577.6 86.3 L579.9 85.3 L582.3 84.3 L584.7 83.4 L587.2 82.4 L589.7 81.6 L592.3 80.7 L594.8 79.9 L597.5 79.1 L600.1 78.4 L602.8 77.6 L605.5 76.9 L608.2 76.3 L610.9 75.6 L613.7 75.0 L616.5 74.4 L619.3 73.9 L622.2 73.4 L625.0 72.9 L627.9 72.5Z" fill="#d19465" stroke="#d19465" stroke-width="0.5" stroke-linejoin="round"/><path d="M669.5 120.5 L627.9 72.5 L630.9 72.0 L634.0 71.6 L637.0 71.3 L640.1 70.9 L643.1 70.6 L646.2 70.3 L649.3 70.1 L652.4 69.9 L655.5 69.7Z" fill="#5f4b52" stroke="#5f4b52" stroke-width="0.5" stroke-linejoin="round"/><path d="M669.5 120.5 L655.5 69.7 L659.0 69.6 L662.5 69.5 L666.0 69.4 L669.5 69.4Z" fill="#0d0d0d" stroke="#0d0d0d" stroke-width="0.5" stroke-linejoin="round"/></svg>
<div class="ln" dir="rtl"><div class="t ttl" style="right:532.4px;top:28.05px;font-size:10.70px;transform:scaleX(0.9286)">سهم</div>
<div class="t ttl" style="right:559.3px;top:28.05px;font-size:10.70px;transform:scaleX(0.6433)">مصرف</div>
<div class="t ttl" style="right:585.2px;top:28.05px;font-size:10.70px;transform:scaleX(0.6607)">مقداری</div>
<div class="t ttl" style="right:614.3px;top:28.05px;font-size:10.70px;transform:scaleX(0.6076)">انرژی</div>
<div class="t ttl" style="right:636.6px;top:28.05px;font-size:10.70px;transform:scaleX(0.6667)">به</div>
<div class="t ttl" style="right:647.8px;top:28.05px;font-size:10.70px;transform:scaleX(0.6951)">تفکیک</div>
<div class="t ttl" style="right:672.8px;top:28.05px;font-size:10.70px;transform:scaleX(0.7525)">صنایع</div>
<div class="t ttl" style="right:697.7px;top:28.05px;font-size:10.70px;transform:scaleX(0.6175)">انرژی</div>
<div class="t ttl" style="right:718.7px;top:28.05px;font-size:10.70px;transform:scaleX(0.5810)">بر</div>
<div class="t ttl" style="right:727.2px;top:28.05px;font-size:10.70px;transform:scaleX(0.7000)">بازار</div>
<div class="t ttl" style="right:746.2px;top:28.05px;font-size:10.70px;transform:scaleX(0.6763)">سرمایه</div>
<div class="t ttl" style="right:773.1px;top:28.05px;font-size:10.70px;transform:scaleX(1.5439)">-</div>
<div class="t ttl" style="right:784.0px;top:28.05px;font-size:10.70px;transform:scaleX(0.5899)">درصد</div>
</div>
<div class="ln" dir="rtl"><div class="t ttl" style="right:79.4px;top:31.50px;font-size:10.40px;transform:scaleX(0.9471)">سهم</div>
<div class="t ttl" style="right:106.1px;top:31.50px;font-size:10.40px;transform:scaleX(0.6559)">مصرف</div>
<div class="t ttl" style="right:131.8px;top:31.50px;font-size:10.40px;transform:scaleX(0.6347)">ريالي</div>
<div class="t ttl" style="right:152.0px;top:31.50px;font-size:10.40px;transform:scaleX(0.6081)">انرژي</div>
<div class="t ttl" style="right:172.7px;top:31.50px;font-size:10.40px;transform:scaleX(0.6525)">گاز</div>
<div class="t ttl" style="right:185.1px;top:31.50px;font-size:10.40px;transform:scaleX(0.6469)">به</div>
<div class="t ttl" style="right:196.0px;top:31.50px;font-size:10.40px;transform:scaleX(0.7582)">تفکيک</div>
<div class="t ttl" style="right:222.8px;top:31.50px;font-size:10.40px;transform:scaleX(0.7743)">صنايع</div>
<div class="t ttl" style="right:248.0px;top:31.50px;font-size:10.40px;transform:scaleX(0.6352)">انرژي</div>
<div class="t ttl" style="right:269.5px;top:31.50px;font-size:10.40px;transform:scaleX(0.5687)">بر</div>
<div class="t ttl" style="right:278.0px;top:31.50px;font-size:10.40px;transform:scaleX(0.7154)">بازار</div>
<div class="t ttl" style="right:297.1px;top:31.50px;font-size:10.40px;transform:scaleX(0.6983)">سرمايه</div>
<div class="t ttl" style="right:327.3px;top:31.50px;font-size:10.40px;transform:scaleX(1.3550)">-</div>
<div class="t ttl" style="right:333.2px;top:31.50px;font-size:10.40px;transform:scaleX(0.5994)">درصد</div>
</div>
<span class="sq" style="left:98.6px;top:275.6px;width:4.8px;height:4.8px;background:#fbc93d"></span><div class="t lg" style="right:711.9px;top:272.90px;font-size:9.10px;transform:scaleX(0.6266)">عرضه برق، گاز، بخاروآب گرم</div>
<span class="sq" style="left:98.6px;top:288.0px;width:4.8px;height:4.8px;background:#7b8b85"></span><div class="t lg" style="right:733.3px;top:284.80px;font-size:9.10px;transform:scaleX(0.7054)">محصولات شیمیایي</div>
<span class="sq" style="left:98.6px;top:300.2px;width:4.8px;height:4.8px;background:#d19465"></span><div class="t lg" style="right:667.3px;top:296.70px;font-size:9.10px;transform:scaleX(0.6760)">فراورده هاي نفتي، کک و سوخت هسته اي</div>
<span class="sq" style="left:98.6px;top:312.2px;width:4.8px;height:4.8px;background:#5f4b52"></span><div class="t lg" style="right:722.5px;top:308.70px;font-size:9.10px;transform:scaleX(0.6684)">استخراج کانه هاي فلزي</div>
<span class="sq" style="left:253.1px;top:275.6px;width:4.8px;height:4.8px;background:#c00000"></span><div class="t lg" style="right:598.2px;top:272.90px;font-size:9.10px;transform:scaleX(0.6260)">فلزات اساسي</div>
<span class="sq" style="left:253.1px;top:288.0px;width:4.8px;height:4.8px;background:#ddd0bc"></span><div class="t lg" style="right:582.0px;top:284.80px;font-size:9.10px;transform:scaleX(0.7267)">سیمان، آهک و گچ</div>
<span class="sq" style="left:253.1px;top:300.2px;width:4.8px;height:4.8px;background:#0d0d0d"></span><div class="t lg" style="right:600.0px;top:296.70px;font-size:9.10px;transform:scaleX(0.7010)">سایر صنایع</div>
<span class="sq" style="left:512.2px;top:260.9px;width:4.8px;height:4.8px;background:#ffc000"></span><div class="t lg" style="right:300.1px;top:258.00px;font-size:9.10px;transform:scaleX(0.6289)">عرضه برق، گاز، بخاروآب گرم</div>
<span class="sq" style="left:512.2px;top:278.7px;width:4.8px;height:4.8px;background:#7b8b85"></span><div class="t lg" style="right:320.6px;top:275.60px;font-size:9.10px;transform:scaleX(0.7197)">محصولات شیمیایي</div>
<span class="sq" style="left:512.2px;top:296.3px;width:4.8px;height:4.8px;background:#d19465"></span><div class="t lg" style="right:255.0px;top:293.10px;font-size:9.10px;transform:scaleX(0.6804)">فراورده هاي نفتي، کک و سوخت هسته اي</div>
<span class="sq" style="left:512.2px;top:313.8px;width:4.8px;height:4.8px;background:#0d0d0d"></span><div class="t lg" style="right:342.4px;top:310.50px;font-size:9.10px;transform:scaleX(0.7071)">سایر صنایع</div>
<span class="sq" style="left:704.2px;top:260.9px;width:4.8px;height:4.8px;background:#c00000"></span><div class="t lg" style="right:148.8px;top:258.00px;font-size:9.10px;transform:scaleX(0.6229)">فلزات اساسي</div>
<span class="sq" style="left:704.2px;top:278.7px;width:4.8px;height:4.8px;background:#ddd0bc"></span><div class="t lg" style="right:133.0px;top:275.60px;font-size:9.10px;transform:scaleX(0.7189)">سیمان، آهک و گچ</div>
<span class="sq" style="left:704.2px;top:296.3px;width:4.8px;height:4.8px;background:#5f4b52"></span><div class="t lg" style="right:119.3px;top:293.10px;font-size:9.10px;transform:scaleX(0.6617)">استخراج کانه هاي فلزي</div>
<div class="t lb" style="direction:ltr;color:#111;right:594.1px;top:112.02px;font-size:7.30px;transform:scaleX(0.8308)">۴۶%</div>
<div class="t lb" style="direction:ltr;color:#111;right:687.6px;top:146.72px;font-size:7.30px;transform:scaleX(0.7659)">۲۰%</div>
<div class="t lb" style="direction:ltr;color:#111;right:729.8px;top:122.02px;font-size:7.30px;transform:scaleX(0.5712)">۱۱%</div>
<div class="t lb" style="direction:ltr;color:#111;right:722.2px;top:103.22px;font-size:7.30px;transform:scaleX(0.8034)">۹%</div>
<div class="t lb" style="direction:ltr;color:#111;right:699.4px;top:91.82px;font-size:7.30px;transform:scaleX(0.8582)">۸%</div>
<div class="t lb" style="direction:ltr;color:#fff;right:677.8px;top:86.92px;font-size:7.30px;transform:scaleX(0.8308)">۴%</div>
<div class="t lb" style="direction:ltr;color:#fff;right:666.7px;top:86.92px;font-size:7.30px;transform:scaleX(0.8034)">۲%</div>
<div class="t lb" style="direction:ltr;color:#111;right:175.1px;top:79.72px;font-size:7.30px;transform:scaleX(0.7205)">۱۹%</div>
<div class="t lb" style="direction:ltr;color:#111;right:126.0px;top:157.52px;font-size:7.30px;transform:scaleX(0.9542)">۳۵%</div>
<div class="t lb" style="direction:ltr;color:#111;right:324.1px;top:157.52px;font-size:7.30px;transform:scaleX(0.7789)">۲۰%</div>
<div class="t lb" style="direction:ltr;color:#111;right:341.1px;top:112.32px;font-size:7.30px;transform:scaleX(0.9130)">۵%</div>
<div class="t lb" style="direction:ltr;color:#111;right:299.6px;top:86.82px;font-size:7.30px;transform:scaleX(0.7465)">۱۵%</div>
<div class="t lb" style="direction:ltr;color:#111;right:248.9px;top:75.72px;font-size:7.30px;transform:scaleX(0.8491)">۴%</div>
<svg class="bg" width="900" height="408" viewBox="0 0 900 408" fill="#1b6a70"><path d="M868.00 363.00 l1.55 1.55 l-1.55 1.55 l-1.55 -1.55 Z"/><path d="M868.00 367.30 l1.55 1.55 l-1.55 1.55 l-1.55 -1.55 Z"/><path d="M865.85 365.15 l1.55 1.55 l-1.55 1.55 l-1.55 -1.55 Z"/><path d="M870.15 365.15 l1.55 1.55 l-1.55 1.55 l-1.55 -1.55 Z"/></svg><div class="ln" dir="rtl"><div class="t bl" style="right:51.0px;top:361.68px;font-size:9.60px;transform:scaleX(0.9351)">بیشترین</div>
<div class="t bl" style="right:84.8px;top:361.68px;font-size:9.60px;transform:scaleX(0.7582)">سهم</div>
<div class="t bl" style="right:102.3px;top:361.68px;font-size:9.60px;transform:scaleX(0.8466)">مصرف</div>
<div class="t bl" style="right:129.7px;top:361.68px;font-size:9.60px;transform:scaleX(0.9215)">مقداری</div>
<div class="t bl" style="right:160.3px;top:361.68px;font-size:9.60px;transform:scaleX(0.8340)">انرژی</div>
<div class="t bl" style="right:182.5px;top:361.68px;font-size:9.60px;transform:scaleX(0.9237)">گاز</div>
<div class="t bl" style="right:197.3px;top:361.68px;font-size:9.60px;transform:scaleX(1.0191)">متعلق</div>
<div class="t bl" style="right:225.1px;top:361.68px;font-size:9.60px;transform:scaleX(0.9709)">به</div>
<div class="t bl" style="right:236.1px;top:361.68px;font-size:9.60px;transform:scaleX(0.8408)">صنعت</div>
<div class="t bl" style="right:260.6px;top:361.68px;font-size:9.60px;transform:scaleX(0.9793)">نیروگاهی</div>
<div class="t bl" style="right:299.2px;top:361.68px;font-size:9.60px;transform:scaleX(0.7973)">و</div>
<div class="t bl" style="right:307.3px;top:361.68px;font-size:9.60px;transform:scaleX(0.7228)">فلزات</div>
<div class="t bl" style="right:328.1px;top:361.68px;font-size:9.60px;transform:scaleX(0.8257)">اساسی</div>
<div class="t bl" style="right:355.8px;top:361.68px;font-size:9.60px;transform:scaleX(0.8291)">است.</div>
</div>
<svg class="bg" width="900" height="408" viewBox="0 0 900 408" fill="#1b6a70"><path d="M868.00 391.00 l1.55 1.55 l-1.55 1.55 l-1.55 -1.55 Z"/><path d="M868.00 395.30 l1.55 1.55 l-1.55 1.55 l-1.55 -1.55 Z"/><path d="M865.85 393.15 l1.55 1.55 l-1.55 1.55 l-1.55 -1.55 Z"/><path d="M870.15 393.15 l1.55 1.55 l-1.55 1.55 l-1.55 -1.55 Z"/></svg><div class="ln" dir="rtl"><div class="t bl" style="right:51.0px;top:389.48px;font-size:9.60px;transform:scaleX(0.9351)">بیشترین</div>
<div class="t bl" style="right:84.3px;top:389.48px;font-size:9.60px;transform:scaleX(0.7635)">سهم</div>
<div class="t bl" style="right:101.9px;top:389.48px;font-size:9.60px;transform:scaleX(0.8431)">مصرف</div>
<div class="t bl" style="right:129.1px;top:389.48px;font-size:9.60px;transform:scaleX(0.8792)">ریالی</div>
<div class="t bl" style="right:150.8px;top:389.48px;font-size:9.60px;transform:scaleX(0.8340)">انرژی</div>
<div class="t bl" style="right:173.0px;top:389.48px;font-size:9.60px;transform:scaleX(0.9237)">گاز</div>
<div class="t bl" style="right:187.8px;top:389.48px;font-size:9.60px;transform:scaleX(1.0191)">متعلق</div>
<div class="t bl" style="right:215.7px;top:389.48px;font-size:9.60px;transform:scaleX(0.8942)">به</div>
<div class="t bl" style="right:226.3px;top:389.48px;font-size:9.60px;transform:scaleX(0.7268)">فلزات</div>
<div class="t bl" style="right:247.1px;top:389.48px;font-size:9.60px;transform:scaleX(0.8291)">اساسی</div>
<div class="t bl" style="right:277.0px;top:389.48px;font-size:9.60px;transform:scaleX(0.6896)">و</div>
<div class="t bl" style="right:283.9px;top:389.48px;font-size:9.60px;transform:scaleX(0.9176)">محصولات</div>
<div class="t bl" style="right:322.7px;top:389.48px;font-size:9.60px;transform:scaleX(1.0313)">شیمیایی</div>
<div class="t bl" style="right:359.5px;top:389.48px;font-size:9.60px;transform:scaleX(0.8027)">است.</div>
</div>
</body>
</html>
